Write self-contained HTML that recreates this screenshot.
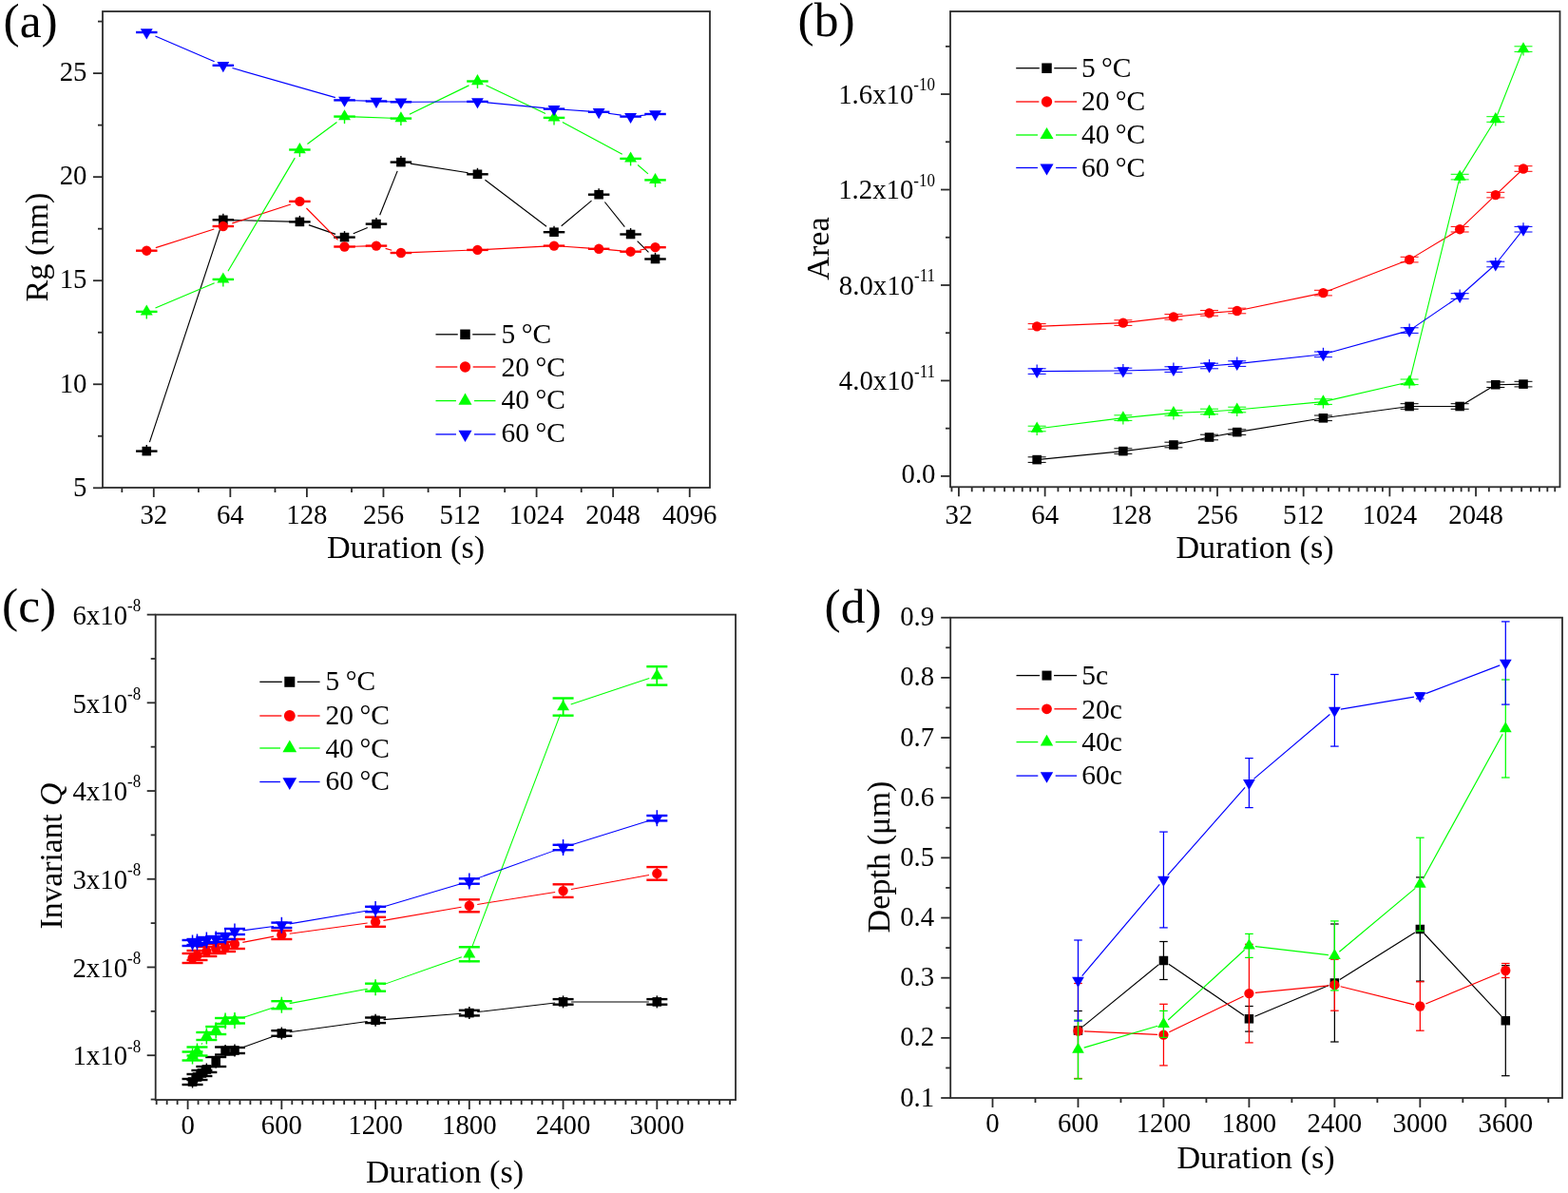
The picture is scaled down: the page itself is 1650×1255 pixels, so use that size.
<!DOCTYPE html>
<html><head><meta charset="utf-8"><title>Figure</title>
<style>
html,body{margin:0;padding:0;background:#fff;}
body{width:1650px;height:1255px;overflow:hidden;}
svg{display:block;}
text{font-family:"Liberation Serif", "Times New Roman", serif;fill:#000;}
</style></head>
<body>
<svg width="1650" height="1255" viewBox="0 0 1650 1255">
<rect width="1650" height="1255" fill="#fff"/>
<rect x="108" y="12" width="639" height="501" fill="none" stroke="#2b2b2b" stroke-width="1.8"/>
<line x1="98" y1="513.3" x2="108" y2="513.3" stroke="#2b2b2b" stroke-width="1.8"/>
<text transform="translate(91.5,521.55) scale(1,1.05)" font-size="28.8" text-anchor="end">5</text>
<line x1="98" y1="404.25" x2="108" y2="404.25" stroke="#2b2b2b" stroke-width="1.8"/>
<text transform="translate(91.5,412.5) scale(1,1.05)" font-size="28.8" text-anchor="end">10</text>
<line x1="98" y1="295.2" x2="108" y2="295.2" stroke="#2b2b2b" stroke-width="1.8"/>
<text transform="translate(91.5,303.45) scale(1,1.05)" font-size="28.8" text-anchor="end">15</text>
<line x1="98" y1="186.15" x2="108" y2="186.15" stroke="#2b2b2b" stroke-width="1.8"/>
<text transform="translate(91.5,194.4) scale(1,1.05)" font-size="28.8" text-anchor="end">20</text>
<line x1="98" y1="77.1" x2="108" y2="77.1" stroke="#2b2b2b" stroke-width="1.8"/>
<text transform="translate(91.5,85.35) scale(1,1.05)" font-size="28.8" text-anchor="end">25</text>
<line x1="103" y1="458.77" x2="108" y2="458.77" stroke="#2b2b2b" stroke-width="1.8"/>
<line x1="103" y1="349.72" x2="108" y2="349.72" stroke="#2b2b2b" stroke-width="1.8"/>
<line x1="103" y1="240.67" x2="108" y2="240.67" stroke="#2b2b2b" stroke-width="1.8"/>
<line x1="103" y1="131.62" x2="108" y2="131.62" stroke="#2b2b2b" stroke-width="1.8"/>
<line x1="103" y1="22.57" x2="108" y2="22.57" stroke="#2b2b2b" stroke-width="1.8"/>
<line x1="161.78" y1="513" x2="161.78" y2="523" stroke="#2b2b2b" stroke-width="1.8"/>
<text transform="translate(161.78,550.5) scale(1,1.05)" font-size="28.8" text-anchor="middle">32</text>
<line x1="242.34" y1="513" x2="242.34" y2="523" stroke="#2b2b2b" stroke-width="1.8"/>
<text transform="translate(242.34,550.5) scale(1,1.05)" font-size="28.8" text-anchor="middle">64</text>
<line x1="322.91" y1="513" x2="322.91" y2="523" stroke="#2b2b2b" stroke-width="1.8"/>
<text transform="translate(322.91,550.5) scale(1,1.05)" font-size="28.8" text-anchor="middle">128</text>
<line x1="403.47" y1="513" x2="403.47" y2="523" stroke="#2b2b2b" stroke-width="1.8"/>
<text transform="translate(403.47,550.5) scale(1,1.05)" font-size="28.8" text-anchor="middle">256</text>
<line x1="484.04" y1="513" x2="484.04" y2="523" stroke="#2b2b2b" stroke-width="1.8"/>
<text transform="translate(484.04,550.5) scale(1,1.05)" font-size="28.8" text-anchor="middle">512</text>
<line x1="564.6" y1="513" x2="564.6" y2="523" stroke="#2b2b2b" stroke-width="1.8"/>
<text transform="translate(564.6,550.5) scale(1,1.05)" font-size="28.8" text-anchor="middle">1024</text>
<line x1="645.16" y1="513" x2="645.16" y2="523" stroke="#2b2b2b" stroke-width="1.8"/>
<text transform="translate(645.16,550.5) scale(1,1.05)" font-size="28.8" text-anchor="middle">2048</text>
<line x1="725.73" y1="513" x2="725.73" y2="523" stroke="#2b2b2b" stroke-width="1.8"/>
<text transform="translate(725.73,550.5) scale(1,1.05)" font-size="28.8" text-anchor="middle">4096</text>
<line x1="128.34" y1="513" x2="128.34" y2="518" stroke="#2b2b2b" stroke-width="1.8"/>
<line x1="208.91" y1="513" x2="208.91" y2="518" stroke="#2b2b2b" stroke-width="1.8"/>
<line x1="289.47" y1="513" x2="289.47" y2="518" stroke="#2b2b2b" stroke-width="1.8"/>
<line x1="370.03" y1="513" x2="370.03" y2="518" stroke="#2b2b2b" stroke-width="1.8"/>
<line x1="450.6" y1="513" x2="450.6" y2="518" stroke="#2b2b2b" stroke-width="1.8"/>
<line x1="531.16" y1="513" x2="531.16" y2="518" stroke="#2b2b2b" stroke-width="1.8"/>
<line x1="611.73" y1="513" x2="611.73" y2="518" stroke="#2b2b2b" stroke-width="1.8"/>
<line x1="692.29" y1="513" x2="692.29" y2="518" stroke="#2b2b2b" stroke-width="1.8"/>
<text x="427" y="587" font-size="34.2" text-anchor="middle">Duration (s)</text>
<text transform="translate(49.5,260) rotate(-90)" font-size="34.2" text-anchor="middle">Rg (nm)</text>
<text x="3.5" y="38.6" font-size="51.5" text-anchor="start">(a)</text>
<path d="M157.42 465.11L231.7 240.79M244.84 231.56L305.41 233.14M324.86 236.65L353.08 246.35M371.76 245.74L386.75 239.46M399.68 226.31L418.2 179.89M431.78 172.16L492.59 181.74M510.45 189.33L575.06 238.17M590.7 237.78L622.5 211.12M636.41 212.51L657.35 238.69M670.66 253.58L682.47 265.42" fill="none" stroke="#000000" stroke-width="1.15"/>
<line x1="154.28" y1="468.1" x2="154.28" y2="474.6" stroke="#000000" stroke-width="1.4"/>
<line x1="143.03" y1="474.6" x2="165.53" y2="474.6" stroke="#000000" stroke-width="2.4"/>
<line x1="234.84" y1="224.8" x2="234.84" y2="231.3" stroke="#000000" stroke-width="1.4"/>
<line x1="223.59" y1="231.3" x2="246.09" y2="231.3" stroke="#000000" stroke-width="2.4"/>
<line x1="315.41" y1="226.9" x2="315.41" y2="233.4" stroke="#000000" stroke-width="1.4"/>
<line x1="304.16" y1="233.4" x2="326.66" y2="233.4" stroke="#000000" stroke-width="2.4"/>
<line x1="362.53" y1="243.1" x2="362.53" y2="249.6" stroke="#000000" stroke-width="1.4"/>
<line x1="351.28" y1="249.6" x2="373.78" y2="249.6" stroke="#000000" stroke-width="2.4"/>
<line x1="395.97" y1="229.1" x2="395.97" y2="235.6" stroke="#000000" stroke-width="1.4"/>
<line x1="384.72" y1="235.6" x2="407.22" y2="235.6" stroke="#000000" stroke-width="2.4"/>
<line x1="421.91" y1="164.1" x2="421.91" y2="170.6" stroke="#000000" stroke-width="1.4"/>
<line x1="410.66" y1="170.6" x2="433.16" y2="170.6" stroke="#000000" stroke-width="2.4"/>
<line x1="502.47" y1="176.8" x2="502.47" y2="183.3" stroke="#000000" stroke-width="1.4"/>
<line x1="491.22" y1="183.3" x2="513.72" y2="183.3" stroke="#000000" stroke-width="2.4"/>
<line x1="583.03" y1="237.7" x2="583.03" y2="244.2" stroke="#000000" stroke-width="1.4"/>
<line x1="571.78" y1="244.2" x2="594.28" y2="244.2" stroke="#000000" stroke-width="2.4"/>
<line x1="630.16" y1="198.2" x2="630.16" y2="204.7" stroke="#000000" stroke-width="1.4"/>
<line x1="618.91" y1="204.7" x2="641.41" y2="204.7" stroke="#000000" stroke-width="2.4"/>
<line x1="663.6" y1="240" x2="663.6" y2="246.5" stroke="#000000" stroke-width="1.4"/>
<line x1="652.35" y1="246.5" x2="674.85" y2="246.5" stroke="#000000" stroke-width="2.4"/>
<line x1="689.53" y1="266" x2="689.53" y2="272.5" stroke="#000000" stroke-width="1.4"/>
<line x1="678.28" y1="272.5" x2="700.78" y2="272.5" stroke="#000000" stroke-width="2.4"/>
<rect x="149.48" y="469.8" width="9.6" height="9.6" fill="#000000"/>
<rect x="230.04" y="226.5" width="9.6" height="9.6" fill="#000000"/>
<rect x="310.61" y="228.6" width="9.6" height="9.6" fill="#000000"/>
<rect x="357.73" y="244.8" width="9.6" height="9.6" fill="#000000"/>
<rect x="391.17" y="230.8" width="9.6" height="9.6" fill="#000000"/>
<rect x="417.11" y="165.8" width="9.6" height="9.6" fill="#000000"/>
<rect x="497.67" y="178.5" width="9.6" height="9.6" fill="#000000"/>
<rect x="578.23" y="239.4" width="9.6" height="9.6" fill="#000000"/>
<rect x="625.36" y="199.9" width="9.6" height="9.6" fill="#000000"/>
<rect x="658.8" y="241.7" width="9.6" height="9.6" fill="#000000"/>
<rect x="684.73" y="267.7" width="9.6" height="9.6" fill="#000000"/>
<path d="M163.81 260.66L225.32 241.04M244.36 234.92L305.89 214.98M322.44 219.01L355.5 252.39M372.53 259.23L385.97 258.87M405.59 261.34L412.29 263.26M431.9 265.62L492.48 263.28M512.46 262.37L573.05 259.13M593.01 259.28L620.18 261.12M640.12 262.66L653.64 263.84M673.45 262.99L679.68 261.91" fill="none" stroke="#ff0000" stroke-width="1.15"/>
<line x1="143.03" y1="263.7" x2="165.53" y2="263.7" stroke="#ff0000" stroke-width="2.4"/>
<line x1="223.59" y1="238" x2="246.09" y2="238" stroke="#ff0000" stroke-width="2.4"/>
<line x1="304.16" y1="211.9" x2="326.66" y2="211.9" stroke="#ff0000" stroke-width="2.4"/>
<line x1="351.28" y1="259.5" x2="373.78" y2="259.5" stroke="#ff0000" stroke-width="2.4"/>
<line x1="384.72" y1="258.6" x2="407.22" y2="258.6" stroke="#ff0000" stroke-width="2.4"/>
<line x1="410.66" y1="266" x2="433.16" y2="266" stroke="#ff0000" stroke-width="2.4"/>
<line x1="491.22" y1="262.9" x2="513.72" y2="262.9" stroke="#ff0000" stroke-width="2.4"/>
<line x1="571.78" y1="258.6" x2="594.28" y2="258.6" stroke="#ff0000" stroke-width="2.4"/>
<line x1="618.91" y1="261.8" x2="641.41" y2="261.8" stroke="#ff0000" stroke-width="2.4"/>
<line x1="652.35" y1="264.7" x2="674.85" y2="264.7" stroke="#ff0000" stroke-width="2.4"/>
<line x1="678.28" y1="260.2" x2="700.78" y2="260.2" stroke="#ff0000" stroke-width="2.4"/>
<circle cx="154.28" cy="263.7" r="5.18" fill="#ff0000"/>
<circle cx="234.84" cy="238" r="5.18" fill="#ff0000"/>
<circle cx="315.41" cy="211.9" r="5.18" fill="#ff0000"/>
<circle cx="362.53" cy="259.5" r="5.18" fill="#ff0000"/>
<circle cx="395.97" cy="258.6" r="5.18" fill="#ff0000"/>
<circle cx="421.91" cy="266" r="5.18" fill="#ff0000"/>
<circle cx="502.47" cy="262.9" r="5.18" fill="#ff0000"/>
<circle cx="583.03" cy="258.6" r="5.18" fill="#ff0000"/>
<circle cx="630.16" cy="261.8" r="5.18" fill="#ff0000"/>
<circle cx="663.6" cy="264.7" r="5.18" fill="#ff0000"/>
<circle cx="689.53" cy="260.2" r="5.18" fill="#ff0000"/>
<path d="M163.49 324.01L225.63 297.79M239.93 285.29L310.32 166.11M323.44 151.55L354.5 128.55M372.53 122.94L411.91 124.26M430.9 120.23L493.47 89.87M511.5 89.8L574.01 119.6M591.86 128.61L654.78 162.19M671.15 173.45L681.98 182.85" fill="none" stroke="#00ff00" stroke-width="1.15"/>
<line x1="154.28" y1="327.9" x2="154.28" y2="335.4" stroke="#00ff00" stroke-width="1.4"/>
<line x1="143.03" y1="327.9" x2="165.53" y2="327.9" stroke="#00ff00" stroke-width="2.4"/>
<line x1="234.84" y1="293.9" x2="234.84" y2="301.4" stroke="#00ff00" stroke-width="1.4"/>
<line x1="223.59" y1="293.9" x2="246.09" y2="293.9" stroke="#00ff00" stroke-width="2.4"/>
<line x1="315.41" y1="157.5" x2="315.41" y2="165" stroke="#00ff00" stroke-width="1.4"/>
<line x1="304.16" y1="157.5" x2="326.66" y2="157.5" stroke="#00ff00" stroke-width="2.4"/>
<line x1="362.53" y1="122.6" x2="362.53" y2="130.1" stroke="#00ff00" stroke-width="1.4"/>
<line x1="351.28" y1="122.6" x2="373.78" y2="122.6" stroke="#00ff00" stroke-width="2.4"/>
<line x1="421.91" y1="124.6" x2="421.91" y2="132.1" stroke="#00ff00" stroke-width="1.4"/>
<line x1="410.66" y1="124.6" x2="433.16" y2="124.6" stroke="#00ff00" stroke-width="2.4"/>
<line x1="502.47" y1="85.5" x2="502.47" y2="93" stroke="#00ff00" stroke-width="1.4"/>
<line x1="491.22" y1="85.5" x2="513.72" y2="85.5" stroke="#00ff00" stroke-width="2.4"/>
<line x1="583.03" y1="123.9" x2="583.03" y2="131.4" stroke="#00ff00" stroke-width="1.4"/>
<line x1="571.78" y1="123.9" x2="594.28" y2="123.9" stroke="#00ff00" stroke-width="2.4"/>
<line x1="663.6" y1="166.9" x2="663.6" y2="174.4" stroke="#00ff00" stroke-width="1.4"/>
<line x1="652.35" y1="166.9" x2="674.85" y2="166.9" stroke="#00ff00" stroke-width="2.4"/>
<line x1="689.53" y1="189.4" x2="689.53" y2="196.9" stroke="#00ff00" stroke-width="1.4"/>
<line x1="678.28" y1="189.4" x2="700.78" y2="189.4" stroke="#00ff00" stroke-width="2.4"/>
<polygon points="154.28,320.47 147.85,331.61 160.71,331.61" fill="#00ff00"/>
<polygon points="234.84,286.47 228.41,297.61 241.27,297.61" fill="#00ff00"/>
<polygon points="315.41,150.07 308.97,161.21 321.84,161.21" fill="#00ff00"/>
<polygon points="362.53,115.17 356.1,126.31 368.97,126.31" fill="#00ff00"/>
<polygon points="421.91,117.17 415.47,128.31 428.34,128.31" fill="#00ff00"/>
<polygon points="502.47,78.07 496.04,89.21 508.9,89.21" fill="#00ff00"/>
<polygon points="583.03,116.47 576.6,127.61 589.47,127.61" fill="#00ff00"/>
<polygon points="663.6,159.47 657.17,170.61 670.03,170.61" fill="#00ff00"/>
<polygon points="689.53,181.97 683.1,193.11 695.97,193.11" fill="#00ff00"/>
<path d="M163.46 37.97L225.66 64.83M244.46 71.56L352.92 102.64M372.53 105.73L385.98 106.17M405.97 106.81L411.91 106.99M431.91 107.25L492.47 106.95M512.43 107.85L573.08 113.65M593.01 115.28L620.18 117.12M640.06 119.22L653.7 121.18M673.55 121.6L679.58 121" fill="none" stroke="#0000ff" stroke-width="1.15"/>
<line x1="143.03" y1="34" x2="165.53" y2="34" stroke="#0000ff" stroke-width="2.4"/>
<line x1="223.59" y1="68.8" x2="246.09" y2="68.8" stroke="#0000ff" stroke-width="2.4"/>
<line x1="351.28" y1="105.4" x2="373.78" y2="105.4" stroke="#0000ff" stroke-width="2.4"/>
<line x1="384.72" y1="106.5" x2="407.22" y2="106.5" stroke="#0000ff" stroke-width="2.4"/>
<line x1="410.66" y1="107.3" x2="433.16" y2="107.3" stroke="#0000ff" stroke-width="2.4"/>
<line x1="491.22" y1="106.9" x2="513.72" y2="106.9" stroke="#0000ff" stroke-width="2.4"/>
<line x1="571.78" y1="114.6" x2="594.28" y2="114.6" stroke="#0000ff" stroke-width="2.4"/>
<line x1="618.91" y1="117.8" x2="641.41" y2="117.8" stroke="#0000ff" stroke-width="2.4"/>
<line x1="652.35" y1="122.6" x2="674.85" y2="122.6" stroke="#0000ff" stroke-width="2.4"/>
<line x1="678.28" y1="120" x2="700.78" y2="120" stroke="#0000ff" stroke-width="2.4"/>
<polygon points="154.28,41.43 147.85,30.29 160.71,30.29" fill="#0000ff"/>
<polygon points="234.84,76.23 228.41,65.09 241.27,65.09" fill="#0000ff"/>
<polygon points="362.53,112.83 356.1,101.69 368.97,101.69" fill="#0000ff"/>
<polygon points="395.97,113.93 389.54,102.79 402.4,102.79" fill="#0000ff"/>
<polygon points="421.91,114.73 415.47,103.59 428.34,103.59" fill="#0000ff"/>
<polygon points="502.47,114.33 496.04,103.19 508.9,103.19" fill="#0000ff"/>
<polygon points="583.03,122.03 576.6,110.89 589.47,110.89" fill="#0000ff"/>
<polygon points="630.16,125.23 623.73,114.09 636.59,114.09" fill="#0000ff"/>
<polygon points="663.6,130.03 657.17,118.89 670.03,118.89" fill="#0000ff"/>
<polygon points="689.53,127.43 683.1,116.29 695.97,116.29" fill="#0000ff"/>
<line x1="458.5" y1="351.8" x2="481.75" y2="351.8" stroke="#000000" stroke-width="1.3"/>
<line x1="497.25" y1="351.8" x2="521.5" y2="351.8" stroke="#000000" stroke-width="1.3"/>
<rect x="484.25" y="346.55" width="10.5" height="10.5" fill="#000000"/>
<text x="527.5" y="360.5" font-size="29.5" text-anchor="start">5<tspan dx="6.4">&#176;C</tspan></text>
<line x1="458.5" y1="386" x2="481.33" y2="386" stroke="#ff0000" stroke-width="1.3"/>
<line x1="497.67" y1="386" x2="521.5" y2="386" stroke="#ff0000" stroke-width="1.3"/>
<circle cx="489.5" cy="386" r="5.67" fill="#ff0000"/>
<text x="527.5" y="395.8" font-size="29.5" text-anchor="start">20<tspan dx="6.4">&#176;C</tspan></text>
<line x1="458.5" y1="421.6" x2="479.96" y2="421.6" stroke="#00ff00" stroke-width="1.3"/>
<line x1="499.04" y1="421.6" x2="521.5" y2="421.6" stroke="#00ff00" stroke-width="1.3"/>
<polygon points="489.5,413.48 482.46,425.66 496.54,425.66" fill="#00ff00"/>
<text x="527.5" y="430.2" font-size="29.5" text-anchor="start">40<tspan dx="6.4">&#176;C</tspan></text>
<line x1="458.5" y1="456.9" x2="479.96" y2="456.9" stroke="#0000ff" stroke-width="1.3"/>
<line x1="499.04" y1="456.9" x2="521.5" y2="456.9" stroke="#0000ff" stroke-width="1.3"/>
<polygon points="489.5,465.02 482.46,452.84 496.54,452.84" fill="#0000ff"/>
<text x="527.5" y="465.2" font-size="29.5" text-anchor="start">60<tspan dx="6.4">&#176;C</tspan></text>
<rect x="1000" y="12" width="641.5" height="500.3" fill="none" stroke="#2b2b2b" stroke-width="1.8"/>
<line x1="990" y1="500.9" x2="1000" y2="500.9" stroke="#2b2b2b" stroke-width="1.8"/>
<text transform="translate(984.5,508.25) scale(1,1.05)" font-size="28.8" text-anchor="end">0.0</text>
<line x1="990" y1="400.44" x2="1000" y2="400.44" stroke="#2b2b2b" stroke-width="1.8"/>
<text transform="translate(984,410.39) scale(1,1.05)" font-size="28.8" text-anchor="end">4.0x10<tspan font-size="17" dy="-13.2">-11</tspan></text>
<line x1="990" y1="299.98" x2="1000" y2="299.98" stroke="#2b2b2b" stroke-width="1.8"/>
<text transform="translate(984,309.93) scale(1,1.05)" font-size="28.8" text-anchor="end">8.0x10<tspan font-size="17" dy="-13.2">-11</tspan></text>
<line x1="990" y1="199.52" x2="1000" y2="199.52" stroke="#2b2b2b" stroke-width="1.8"/>
<text transform="translate(984,209.47) scale(1,1.05)" font-size="28.8" text-anchor="end">1.2x10<tspan font-size="17" dy="-13.2">-10</tspan></text>
<line x1="990" y1="99.06" x2="1000" y2="99.06" stroke="#2b2b2b" stroke-width="1.8"/>
<text transform="translate(984,109.01) scale(1,1.05)" font-size="28.8" text-anchor="end">1.6x10<tspan font-size="17" dy="-13.2">-10</tspan></text>
<line x1="995" y1="450.67" x2="1000" y2="450.67" stroke="#2b2b2b" stroke-width="1.8"/>
<line x1="995" y1="350.21" x2="1000" y2="350.21" stroke="#2b2b2b" stroke-width="1.8"/>
<line x1="995" y1="249.75" x2="1000" y2="249.75" stroke="#2b2b2b" stroke-width="1.8"/>
<line x1="995" y1="149.29" x2="1000" y2="149.29" stroke="#2b2b2b" stroke-width="1.8"/>
<line x1="995" y1="48.83" x2="1000" y2="48.83" stroke="#2b2b2b" stroke-width="1.8"/>
<line x1="1008.93" y1="512.3" x2="1008.93" y2="522.3" stroke="#2b2b2b" stroke-width="1.8"/>
<text transform="translate(1008.93,551) scale(1,1.05)" font-size="28.8" text-anchor="middle">32</text>
<line x1="1099.62" y1="512.3" x2="1099.62" y2="522.3" stroke="#2b2b2b" stroke-width="1.8"/>
<text transform="translate(1099.62,551) scale(1,1.05)" font-size="28.8" text-anchor="middle">64</text>
<line x1="1190.3" y1="512.3" x2="1190.3" y2="522.3" stroke="#2b2b2b" stroke-width="1.8"/>
<text transform="translate(1190.3,551) scale(1,1.05)" font-size="28.8" text-anchor="middle">128</text>
<line x1="1280.99" y1="512.3" x2="1280.99" y2="522.3" stroke="#2b2b2b" stroke-width="1.8"/>
<text transform="translate(1280.99,551) scale(1,1.05)" font-size="28.8" text-anchor="middle">256</text>
<line x1="1371.67" y1="512.3" x2="1371.67" y2="522.3" stroke="#2b2b2b" stroke-width="1.8"/>
<text transform="translate(1371.67,551) scale(1,1.05)" font-size="28.8" text-anchor="middle">512</text>
<line x1="1462.36" y1="512.3" x2="1462.36" y2="522.3" stroke="#2b2b2b" stroke-width="1.8"/>
<text transform="translate(1462.36,551) scale(1,1.05)" font-size="28.8" text-anchor="middle">1024</text>
<line x1="1553.05" y1="512.3" x2="1553.05" y2="522.3" stroke="#2b2b2b" stroke-width="1.8"/>
<text transform="translate(1553.05,551) scale(1,1.05)" font-size="28.8" text-anchor="middle">2048</text>
<line x1="1001.45" y1="512.3" x2="1001.45" y2="517.3" stroke="#2b2b2b" stroke-width="1.8"/>
<line x1="1022.71" y1="512.3" x2="1022.71" y2="517.3" stroke="#2b2b2b" stroke-width="1.8"/>
<line x1="1035.18" y1="512.3" x2="1035.18" y2="517.3" stroke="#2b2b2b" stroke-width="1.8"/>
<line x1="1046.57" y1="512.3" x2="1046.57" y2="517.3" stroke="#2b2b2b" stroke-width="1.8"/>
<line x1="1057.04" y1="512.3" x2="1057.04" y2="517.3" stroke="#2b2b2b" stroke-width="1.8"/>
<line x1="1066.74" y1="512.3" x2="1066.74" y2="517.3" stroke="#2b2b2b" stroke-width="1.8"/>
<line x1="1075.76" y1="512.3" x2="1075.76" y2="517.3" stroke="#2b2b2b" stroke-width="1.8"/>
<line x1="1084.21" y1="512.3" x2="1084.21" y2="517.3" stroke="#2b2b2b" stroke-width="1.8"/>
<line x1="1092.14" y1="512.3" x2="1092.14" y2="517.3" stroke="#2b2b2b" stroke-width="1.8"/>
<line x1="1113.4" y1="512.3" x2="1113.4" y2="517.3" stroke="#2b2b2b" stroke-width="1.8"/>
<line x1="1125.87" y1="512.3" x2="1125.87" y2="517.3" stroke="#2b2b2b" stroke-width="1.8"/>
<line x1="1137.25" y1="512.3" x2="1137.25" y2="517.3" stroke="#2b2b2b" stroke-width="1.8"/>
<line x1="1147.73" y1="512.3" x2="1147.73" y2="517.3" stroke="#2b2b2b" stroke-width="1.8"/>
<line x1="1157.42" y1="512.3" x2="1157.42" y2="517.3" stroke="#2b2b2b" stroke-width="1.8"/>
<line x1="1166.45" y1="512.3" x2="1166.45" y2="517.3" stroke="#2b2b2b" stroke-width="1.8"/>
<line x1="1174.89" y1="512.3" x2="1174.89" y2="517.3" stroke="#2b2b2b" stroke-width="1.8"/>
<line x1="1182.82" y1="512.3" x2="1182.82" y2="517.3" stroke="#2b2b2b" stroke-width="1.8"/>
<line x1="1204.09" y1="512.3" x2="1204.09" y2="517.3" stroke="#2b2b2b" stroke-width="1.8"/>
<line x1="1216.56" y1="512.3" x2="1216.56" y2="517.3" stroke="#2b2b2b" stroke-width="1.8"/>
<line x1="1227.94" y1="512.3" x2="1227.94" y2="517.3" stroke="#2b2b2b" stroke-width="1.8"/>
<line x1="1238.41" y1="512.3" x2="1238.41" y2="517.3" stroke="#2b2b2b" stroke-width="1.8"/>
<line x1="1248.11" y1="512.3" x2="1248.11" y2="517.3" stroke="#2b2b2b" stroke-width="1.8"/>
<line x1="1257.13" y1="512.3" x2="1257.13" y2="517.3" stroke="#2b2b2b" stroke-width="1.8"/>
<line x1="1265.58" y1="512.3" x2="1265.58" y2="517.3" stroke="#2b2b2b" stroke-width="1.8"/>
<line x1="1273.51" y1="512.3" x2="1273.51" y2="517.3" stroke="#2b2b2b" stroke-width="1.8"/>
<line x1="1294.77" y1="512.3" x2="1294.77" y2="517.3" stroke="#2b2b2b" stroke-width="1.8"/>
<line x1="1307.24" y1="512.3" x2="1307.24" y2="517.3" stroke="#2b2b2b" stroke-width="1.8"/>
<line x1="1318.63" y1="512.3" x2="1318.63" y2="517.3" stroke="#2b2b2b" stroke-width="1.8"/>
<line x1="1329.1" y1="512.3" x2="1329.1" y2="517.3" stroke="#2b2b2b" stroke-width="1.8"/>
<line x1="1338.79" y1="512.3" x2="1338.79" y2="517.3" stroke="#2b2b2b" stroke-width="1.8"/>
<line x1="1347.82" y1="512.3" x2="1347.82" y2="517.3" stroke="#2b2b2b" stroke-width="1.8"/>
<line x1="1356.26" y1="512.3" x2="1356.26" y2="517.3" stroke="#2b2b2b" stroke-width="1.8"/>
<line x1="1364.2" y1="512.3" x2="1364.2" y2="517.3" stroke="#2b2b2b" stroke-width="1.8"/>
<line x1="1385.46" y1="512.3" x2="1385.46" y2="517.3" stroke="#2b2b2b" stroke-width="1.8"/>
<line x1="1397.93" y1="512.3" x2="1397.93" y2="517.3" stroke="#2b2b2b" stroke-width="1.8"/>
<line x1="1409.31" y1="512.3" x2="1409.31" y2="517.3" stroke="#2b2b2b" stroke-width="1.8"/>
<line x1="1419.78" y1="512.3" x2="1419.78" y2="517.3" stroke="#2b2b2b" stroke-width="1.8"/>
<line x1="1429.48" y1="512.3" x2="1429.48" y2="517.3" stroke="#2b2b2b" stroke-width="1.8"/>
<line x1="1438.51" y1="512.3" x2="1438.51" y2="517.3" stroke="#2b2b2b" stroke-width="1.8"/>
<line x1="1446.95" y1="512.3" x2="1446.95" y2="517.3" stroke="#2b2b2b" stroke-width="1.8"/>
<line x1="1454.88" y1="512.3" x2="1454.88" y2="517.3" stroke="#2b2b2b" stroke-width="1.8"/>
<line x1="1476.14" y1="512.3" x2="1476.14" y2="517.3" stroke="#2b2b2b" stroke-width="1.8"/>
<line x1="1488.61" y1="512.3" x2="1488.61" y2="517.3" stroke="#2b2b2b" stroke-width="1.8"/>
<line x1="1500" y1="512.3" x2="1500" y2="517.3" stroke="#2b2b2b" stroke-width="1.8"/>
<line x1="1510.47" y1="512.3" x2="1510.47" y2="517.3" stroke="#2b2b2b" stroke-width="1.8"/>
<line x1="1520.17" y1="512.3" x2="1520.17" y2="517.3" stroke="#2b2b2b" stroke-width="1.8"/>
<line x1="1529.19" y1="512.3" x2="1529.19" y2="517.3" stroke="#2b2b2b" stroke-width="1.8"/>
<line x1="1537.64" y1="512.3" x2="1537.64" y2="517.3" stroke="#2b2b2b" stroke-width="1.8"/>
<line x1="1545.57" y1="512.3" x2="1545.57" y2="517.3" stroke="#2b2b2b" stroke-width="1.8"/>
<line x1="1566.83" y1="512.3" x2="1566.83" y2="517.3" stroke="#2b2b2b" stroke-width="1.8"/>
<line x1="1579.3" y1="512.3" x2="1579.3" y2="517.3" stroke="#2b2b2b" stroke-width="1.8"/>
<line x1="1590.68" y1="512.3" x2="1590.68" y2="517.3" stroke="#2b2b2b" stroke-width="1.8"/>
<line x1="1601.16" y1="512.3" x2="1601.16" y2="517.3" stroke="#2b2b2b" stroke-width="1.8"/>
<line x1="1610.85" y1="512.3" x2="1610.85" y2="517.3" stroke="#2b2b2b" stroke-width="1.8"/>
<line x1="1619.88" y1="512.3" x2="1619.88" y2="517.3" stroke="#2b2b2b" stroke-width="1.8"/>
<line x1="1628.32" y1="512.3" x2="1628.32" y2="517.3" stroke="#2b2b2b" stroke-width="1.8"/>
<line x1="1636.25" y1="512.3" x2="1636.25" y2="517.3" stroke="#2b2b2b" stroke-width="1.8"/>
<text x="1320.5" y="586.5" font-size="34.2" text-anchor="middle">Duration (s)</text>
<text transform="translate(872,261.5) rotate(-90)" font-size="34.2" text-anchor="middle">Area</text>
<text x="839.5" y="38" font-size="51.5" text-anchor="start">(b)</text>
<polyline points="1091.17,483.6 1181.86,474.6 1234.91,468 1272.54,460 1301.74,454.6 1392.42,439.8 1483.11,427.5 1536.16,427.5 1573.8,404.7 1602.99,404.1" fill="none" stroke="#000000" stroke-width="1.1" stroke-linejoin="round"/>
<line x1="1091.17" y1="480.8" x2="1091.17" y2="486.4" stroke="#000000" stroke-width="1.2"/>
<line x1="1081.67" y1="480.8" x2="1100.67" y2="480.8" stroke="#000000" stroke-width="1"/>
<line x1="1081.67" y1="486.4" x2="1100.67" y2="486.4" stroke="#000000" stroke-width="1"/>
<line x1="1181.86" y1="471.8" x2="1181.86" y2="477.4" stroke="#000000" stroke-width="1.2"/>
<line x1="1172.36" y1="471.8" x2="1191.36" y2="471.8" stroke="#000000" stroke-width="1"/>
<line x1="1172.36" y1="477.4" x2="1191.36" y2="477.4" stroke="#000000" stroke-width="1"/>
<line x1="1234.91" y1="465.2" x2="1234.91" y2="470.8" stroke="#000000" stroke-width="1.2"/>
<line x1="1225.41" y1="465.2" x2="1244.41" y2="465.2" stroke="#000000" stroke-width="1"/>
<line x1="1225.41" y1="470.8" x2="1244.41" y2="470.8" stroke="#000000" stroke-width="1"/>
<line x1="1272.54" y1="457.2" x2="1272.54" y2="462.8" stroke="#000000" stroke-width="1.2"/>
<line x1="1263.04" y1="457.2" x2="1282.04" y2="457.2" stroke="#000000" stroke-width="1"/>
<line x1="1263.04" y1="462.8" x2="1282.04" y2="462.8" stroke="#000000" stroke-width="1"/>
<line x1="1301.74" y1="451.8" x2="1301.74" y2="457.4" stroke="#000000" stroke-width="1.2"/>
<line x1="1292.24" y1="451.8" x2="1311.24" y2="451.8" stroke="#000000" stroke-width="1"/>
<line x1="1292.24" y1="457.4" x2="1311.24" y2="457.4" stroke="#000000" stroke-width="1"/>
<line x1="1392.42" y1="437" x2="1392.42" y2="442.6" stroke="#000000" stroke-width="1.2"/>
<line x1="1382.92" y1="437" x2="1401.92" y2="437" stroke="#000000" stroke-width="1"/>
<line x1="1382.92" y1="442.6" x2="1401.92" y2="442.6" stroke="#000000" stroke-width="1"/>
<line x1="1483.11" y1="424.7" x2="1483.11" y2="430.3" stroke="#000000" stroke-width="1.2"/>
<line x1="1473.61" y1="424.7" x2="1492.61" y2="424.7" stroke="#000000" stroke-width="1"/>
<line x1="1473.61" y1="430.3" x2="1492.61" y2="430.3" stroke="#000000" stroke-width="1"/>
<line x1="1536.16" y1="424.7" x2="1536.16" y2="430.3" stroke="#000000" stroke-width="1.2"/>
<line x1="1526.66" y1="424.7" x2="1545.66" y2="424.7" stroke="#000000" stroke-width="1"/>
<line x1="1526.66" y1="430.3" x2="1545.66" y2="430.3" stroke="#000000" stroke-width="1"/>
<line x1="1573.8" y1="401.9" x2="1573.8" y2="407.5" stroke="#000000" stroke-width="1.2"/>
<line x1="1564.3" y1="401.9" x2="1583.3" y2="401.9" stroke="#000000" stroke-width="1"/>
<line x1="1564.3" y1="407.5" x2="1583.3" y2="407.5" stroke="#000000" stroke-width="1"/>
<line x1="1602.99" y1="401.3" x2="1602.99" y2="406.9" stroke="#000000" stroke-width="1.2"/>
<line x1="1593.49" y1="401.3" x2="1612.49" y2="401.3" stroke="#000000" stroke-width="1"/>
<line x1="1593.49" y1="406.9" x2="1612.49" y2="406.9" stroke="#000000" stroke-width="1"/>
<rect x="1086.37" y="478.8" width="9.6" height="9.6" fill="#000000"/>
<rect x="1177.06" y="469.8" width="9.6" height="9.6" fill="#000000"/>
<rect x="1230.11" y="463.2" width="9.6" height="9.6" fill="#000000"/>
<rect x="1267.74" y="455.2" width="9.6" height="9.6" fill="#000000"/>
<rect x="1296.94" y="449.8" width="9.6" height="9.6" fill="#000000"/>
<rect x="1387.62" y="435" width="9.6" height="9.6" fill="#000000"/>
<rect x="1478.31" y="422.7" width="9.6" height="9.6" fill="#000000"/>
<rect x="1531.36" y="422.7" width="9.6" height="9.6" fill="#000000"/>
<rect x="1569" y="399.9" width="9.6" height="9.6" fill="#000000"/>
<rect x="1598.19" y="399.3" width="9.6" height="9.6" fill="#000000"/>
<polyline points="1091.17,343.4 1181.86,339.6 1234.91,333.4 1272.54,329.4 1301.74,327 1392.42,308.1 1483.11,273.1 1536.16,241.2 1573.8,205.1 1602.99,177.5" fill="none" stroke="#ff0000" stroke-width="1.1" stroke-linejoin="round"/>
<line x1="1091.17" y1="340.6" x2="1091.17" y2="346.2" stroke="#ff0000" stroke-width="1.2"/>
<line x1="1081.67" y1="340.6" x2="1100.67" y2="340.6" stroke="#ff0000" stroke-width="1"/>
<line x1="1081.67" y1="346.2" x2="1100.67" y2="346.2" stroke="#ff0000" stroke-width="1"/>
<line x1="1181.86" y1="336.8" x2="1181.86" y2="342.4" stroke="#ff0000" stroke-width="1.2"/>
<line x1="1172.36" y1="336.8" x2="1191.36" y2="336.8" stroke="#ff0000" stroke-width="1"/>
<line x1="1172.36" y1="342.4" x2="1191.36" y2="342.4" stroke="#ff0000" stroke-width="1"/>
<line x1="1234.91" y1="330.6" x2="1234.91" y2="336.2" stroke="#ff0000" stroke-width="1.2"/>
<line x1="1225.41" y1="330.6" x2="1244.41" y2="330.6" stroke="#ff0000" stroke-width="1"/>
<line x1="1225.41" y1="336.2" x2="1244.41" y2="336.2" stroke="#ff0000" stroke-width="1"/>
<line x1="1272.54" y1="326.6" x2="1272.54" y2="332.2" stroke="#ff0000" stroke-width="1.2"/>
<line x1="1263.04" y1="326.6" x2="1282.04" y2="326.6" stroke="#ff0000" stroke-width="1"/>
<line x1="1263.04" y1="332.2" x2="1282.04" y2="332.2" stroke="#ff0000" stroke-width="1"/>
<line x1="1301.74" y1="324.2" x2="1301.74" y2="329.8" stroke="#ff0000" stroke-width="1.2"/>
<line x1="1292.24" y1="324.2" x2="1311.24" y2="324.2" stroke="#ff0000" stroke-width="1"/>
<line x1="1292.24" y1="329.8" x2="1311.24" y2="329.8" stroke="#ff0000" stroke-width="1"/>
<line x1="1392.42" y1="305.3" x2="1392.42" y2="310.9" stroke="#ff0000" stroke-width="1.2"/>
<line x1="1382.92" y1="305.3" x2="1401.92" y2="305.3" stroke="#ff0000" stroke-width="1"/>
<line x1="1382.92" y1="310.9" x2="1401.92" y2="310.9" stroke="#ff0000" stroke-width="1"/>
<line x1="1483.11" y1="270.3" x2="1483.11" y2="275.9" stroke="#ff0000" stroke-width="1.2"/>
<line x1="1473.61" y1="270.3" x2="1492.61" y2="270.3" stroke="#ff0000" stroke-width="1"/>
<line x1="1473.61" y1="275.9" x2="1492.61" y2="275.9" stroke="#ff0000" stroke-width="1"/>
<line x1="1536.16" y1="238.4" x2="1536.16" y2="244" stroke="#ff0000" stroke-width="1.2"/>
<line x1="1526.66" y1="238.4" x2="1545.66" y2="238.4" stroke="#ff0000" stroke-width="1"/>
<line x1="1526.66" y1="244" x2="1545.66" y2="244" stroke="#ff0000" stroke-width="1"/>
<line x1="1573.8" y1="202.3" x2="1573.8" y2="207.9" stroke="#ff0000" stroke-width="1.2"/>
<line x1="1564.3" y1="202.3" x2="1583.3" y2="202.3" stroke="#ff0000" stroke-width="1"/>
<line x1="1564.3" y1="207.9" x2="1583.3" y2="207.9" stroke="#ff0000" stroke-width="1"/>
<line x1="1602.99" y1="174.7" x2="1602.99" y2="180.3" stroke="#ff0000" stroke-width="1.2"/>
<line x1="1593.49" y1="174.7" x2="1612.49" y2="174.7" stroke="#ff0000" stroke-width="1"/>
<line x1="1593.49" y1="180.3" x2="1612.49" y2="180.3" stroke="#ff0000" stroke-width="1"/>
<circle cx="1091.17" cy="343.4" r="5.18" fill="#ff0000"/>
<circle cx="1181.86" cy="339.6" r="5.18" fill="#ff0000"/>
<circle cx="1234.91" cy="333.4" r="5.18" fill="#ff0000"/>
<circle cx="1272.54" cy="329.4" r="5.18" fill="#ff0000"/>
<circle cx="1301.74" cy="327" r="5.18" fill="#ff0000"/>
<circle cx="1392.42" cy="308.1" r="5.18" fill="#ff0000"/>
<circle cx="1483.11" cy="273.1" r="5.18" fill="#ff0000"/>
<circle cx="1536.16" cy="241.2" r="5.18" fill="#ff0000"/>
<circle cx="1573.8" cy="205.1" r="5.18" fill="#ff0000"/>
<circle cx="1602.99" cy="177.5" r="5.18" fill="#ff0000"/>
<polyline points="1091.17,451 1181.86,439.6 1234.91,434.4 1272.54,433 1301.74,431 1392.42,422.6 1483.11,401.8 1536.16,186.1 1573.8,125.5 1602.99,51.6" fill="none" stroke="#00ff00" stroke-width="1.1" stroke-linejoin="round"/>
<line x1="1091.17" y1="451" x2="1091.17" y2="458" stroke="#00ff00" stroke-width="1.2"/>
<line x1="1091.17" y1="448.2" x2="1091.17" y2="453.8" stroke="#00ff00" stroke-width="1.2"/>
<line x1="1081.67" y1="448.2" x2="1100.67" y2="448.2" stroke="#00ff00" stroke-width="1"/>
<line x1="1081.67" y1="453.8" x2="1100.67" y2="453.8" stroke="#00ff00" stroke-width="1"/>
<line x1="1181.86" y1="439.6" x2="1181.86" y2="446.6" stroke="#00ff00" stroke-width="1.2"/>
<line x1="1181.86" y1="436.8" x2="1181.86" y2="442.4" stroke="#00ff00" stroke-width="1.2"/>
<line x1="1172.36" y1="436.8" x2="1191.36" y2="436.8" stroke="#00ff00" stroke-width="1"/>
<line x1="1172.36" y1="442.4" x2="1191.36" y2="442.4" stroke="#00ff00" stroke-width="1"/>
<line x1="1234.91" y1="434.4" x2="1234.91" y2="441.4" stroke="#00ff00" stroke-width="1.2"/>
<line x1="1234.91" y1="431.6" x2="1234.91" y2="437.2" stroke="#00ff00" stroke-width="1.2"/>
<line x1="1225.41" y1="431.6" x2="1244.41" y2="431.6" stroke="#00ff00" stroke-width="1"/>
<line x1="1225.41" y1="437.2" x2="1244.41" y2="437.2" stroke="#00ff00" stroke-width="1"/>
<line x1="1272.54" y1="433" x2="1272.54" y2="440" stroke="#00ff00" stroke-width="1.2"/>
<line x1="1272.54" y1="430.2" x2="1272.54" y2="435.8" stroke="#00ff00" stroke-width="1.2"/>
<line x1="1263.04" y1="430.2" x2="1282.04" y2="430.2" stroke="#00ff00" stroke-width="1"/>
<line x1="1263.04" y1="435.8" x2="1282.04" y2="435.8" stroke="#00ff00" stroke-width="1"/>
<line x1="1301.74" y1="431" x2="1301.74" y2="438" stroke="#00ff00" stroke-width="1.2"/>
<line x1="1301.74" y1="428.2" x2="1301.74" y2="433.8" stroke="#00ff00" stroke-width="1.2"/>
<line x1="1292.24" y1="428.2" x2="1311.24" y2="428.2" stroke="#00ff00" stroke-width="1"/>
<line x1="1292.24" y1="433.8" x2="1311.24" y2="433.8" stroke="#00ff00" stroke-width="1"/>
<line x1="1392.42" y1="422.6" x2="1392.42" y2="429.6" stroke="#00ff00" stroke-width="1.2"/>
<line x1="1392.42" y1="419.8" x2="1392.42" y2="425.4" stroke="#00ff00" stroke-width="1.2"/>
<line x1="1382.92" y1="419.8" x2="1401.92" y2="419.8" stroke="#00ff00" stroke-width="1"/>
<line x1="1382.92" y1="425.4" x2="1401.92" y2="425.4" stroke="#00ff00" stroke-width="1"/>
<line x1="1483.11" y1="401.8" x2="1483.11" y2="408.8" stroke="#00ff00" stroke-width="1.2"/>
<line x1="1483.11" y1="399" x2="1483.11" y2="404.6" stroke="#00ff00" stroke-width="1.2"/>
<line x1="1473.61" y1="399" x2="1492.61" y2="399" stroke="#00ff00" stroke-width="1"/>
<line x1="1473.61" y1="404.6" x2="1492.61" y2="404.6" stroke="#00ff00" stroke-width="1"/>
<line x1="1536.16" y1="186.1" x2="1536.16" y2="193.1" stroke="#00ff00" stroke-width="1.2"/>
<line x1="1536.16" y1="183.3" x2="1536.16" y2="188.9" stroke="#00ff00" stroke-width="1.2"/>
<line x1="1526.66" y1="183.3" x2="1545.66" y2="183.3" stroke="#00ff00" stroke-width="1"/>
<line x1="1526.66" y1="188.9" x2="1545.66" y2="188.9" stroke="#00ff00" stroke-width="1"/>
<line x1="1573.8" y1="125.5" x2="1573.8" y2="132.5" stroke="#00ff00" stroke-width="1.2"/>
<line x1="1573.8" y1="122.7" x2="1573.8" y2="128.3" stroke="#00ff00" stroke-width="1.2"/>
<line x1="1564.3" y1="122.7" x2="1583.3" y2="122.7" stroke="#00ff00" stroke-width="1"/>
<line x1="1564.3" y1="128.3" x2="1583.3" y2="128.3" stroke="#00ff00" stroke-width="1"/>
<line x1="1602.99" y1="51.6" x2="1602.99" y2="58.6" stroke="#00ff00" stroke-width="1.2"/>
<line x1="1602.99" y1="48.8" x2="1602.99" y2="54.4" stroke="#00ff00" stroke-width="1.2"/>
<line x1="1593.49" y1="48.8" x2="1612.49" y2="48.8" stroke="#00ff00" stroke-width="1"/>
<line x1="1593.49" y1="54.4" x2="1612.49" y2="54.4" stroke="#00ff00" stroke-width="1"/>
<polygon points="1091.17,443.57 1084.74,454.71 1097.6,454.71" fill="#00ff00"/>
<polygon points="1181.86,432.17 1175.43,443.31 1188.29,443.31" fill="#00ff00"/>
<polygon points="1234.91,426.97 1228.47,438.11 1241.34,438.11" fill="#00ff00"/>
<polygon points="1272.54,425.57 1266.11,436.71 1278.98,436.71" fill="#00ff00"/>
<polygon points="1301.74,423.57 1295.31,434.71 1308.17,434.71" fill="#00ff00"/>
<polygon points="1392.42,415.17 1385.99,426.31 1398.86,426.31" fill="#00ff00"/>
<polygon points="1483.11,394.37 1476.68,405.51 1489.54,405.51" fill="#00ff00"/>
<polygon points="1536.16,178.67 1529.73,189.81 1542.59,189.81" fill="#00ff00"/>
<polygon points="1573.8,118.07 1567.36,129.21 1580.23,129.21" fill="#00ff00"/>
<polygon points="1602.99,44.17 1596.56,55.31 1609.42,55.31" fill="#00ff00"/>
<polyline points="1091.17,390.6 1181.86,390 1234.91,388.6 1272.54,385 1301.74,382.6 1392.42,372.8 1483.11,347.6 1536.16,311.5 1573.8,278 1602.99,241.2" fill="none" stroke="#0000ff" stroke-width="1.1" stroke-linejoin="round"/>
<line x1="1091.17" y1="383.6" x2="1091.17" y2="390.6" stroke="#0000ff" stroke-width="1.2"/>
<line x1="1091.17" y1="387.8" x2="1091.17" y2="393.4" stroke="#0000ff" stroke-width="1.2"/>
<line x1="1081.67" y1="387.8" x2="1100.67" y2="387.8" stroke="#0000ff" stroke-width="1"/>
<line x1="1081.67" y1="393.4" x2="1100.67" y2="393.4" stroke="#0000ff" stroke-width="1"/>
<line x1="1181.86" y1="383" x2="1181.86" y2="390" stroke="#0000ff" stroke-width="1.2"/>
<line x1="1181.86" y1="387.2" x2="1181.86" y2="392.8" stroke="#0000ff" stroke-width="1.2"/>
<line x1="1172.36" y1="387.2" x2="1191.36" y2="387.2" stroke="#0000ff" stroke-width="1"/>
<line x1="1172.36" y1="392.8" x2="1191.36" y2="392.8" stroke="#0000ff" stroke-width="1"/>
<line x1="1234.91" y1="381.6" x2="1234.91" y2="388.6" stroke="#0000ff" stroke-width="1.2"/>
<line x1="1234.91" y1="385.8" x2="1234.91" y2="391.4" stroke="#0000ff" stroke-width="1.2"/>
<line x1="1225.41" y1="385.8" x2="1244.41" y2="385.8" stroke="#0000ff" stroke-width="1"/>
<line x1="1225.41" y1="391.4" x2="1244.41" y2="391.4" stroke="#0000ff" stroke-width="1"/>
<line x1="1272.54" y1="378" x2="1272.54" y2="385" stroke="#0000ff" stroke-width="1.2"/>
<line x1="1272.54" y1="382.2" x2="1272.54" y2="387.8" stroke="#0000ff" stroke-width="1.2"/>
<line x1="1263.04" y1="382.2" x2="1282.04" y2="382.2" stroke="#0000ff" stroke-width="1"/>
<line x1="1263.04" y1="387.8" x2="1282.04" y2="387.8" stroke="#0000ff" stroke-width="1"/>
<line x1="1301.74" y1="375.6" x2="1301.74" y2="382.6" stroke="#0000ff" stroke-width="1.2"/>
<line x1="1301.74" y1="379.8" x2="1301.74" y2="385.4" stroke="#0000ff" stroke-width="1.2"/>
<line x1="1292.24" y1="379.8" x2="1311.24" y2="379.8" stroke="#0000ff" stroke-width="1"/>
<line x1="1292.24" y1="385.4" x2="1311.24" y2="385.4" stroke="#0000ff" stroke-width="1"/>
<line x1="1392.42" y1="365.8" x2="1392.42" y2="372.8" stroke="#0000ff" stroke-width="1.2"/>
<line x1="1392.42" y1="370" x2="1392.42" y2="375.6" stroke="#0000ff" stroke-width="1.2"/>
<line x1="1382.92" y1="370" x2="1401.92" y2="370" stroke="#0000ff" stroke-width="1"/>
<line x1="1382.92" y1="375.6" x2="1401.92" y2="375.6" stroke="#0000ff" stroke-width="1"/>
<line x1="1483.11" y1="340.6" x2="1483.11" y2="347.6" stroke="#0000ff" stroke-width="1.2"/>
<line x1="1483.11" y1="344.8" x2="1483.11" y2="350.4" stroke="#0000ff" stroke-width="1.2"/>
<line x1="1473.61" y1="344.8" x2="1492.61" y2="344.8" stroke="#0000ff" stroke-width="1"/>
<line x1="1473.61" y1="350.4" x2="1492.61" y2="350.4" stroke="#0000ff" stroke-width="1"/>
<line x1="1536.16" y1="304.5" x2="1536.16" y2="311.5" stroke="#0000ff" stroke-width="1.2"/>
<line x1="1536.16" y1="308.7" x2="1536.16" y2="314.3" stroke="#0000ff" stroke-width="1.2"/>
<line x1="1526.66" y1="308.7" x2="1545.66" y2="308.7" stroke="#0000ff" stroke-width="1"/>
<line x1="1526.66" y1="314.3" x2="1545.66" y2="314.3" stroke="#0000ff" stroke-width="1"/>
<line x1="1573.8" y1="271" x2="1573.8" y2="278" stroke="#0000ff" stroke-width="1.2"/>
<line x1="1573.8" y1="275.2" x2="1573.8" y2="280.8" stroke="#0000ff" stroke-width="1.2"/>
<line x1="1564.3" y1="275.2" x2="1583.3" y2="275.2" stroke="#0000ff" stroke-width="1"/>
<line x1="1564.3" y1="280.8" x2="1583.3" y2="280.8" stroke="#0000ff" stroke-width="1"/>
<line x1="1602.99" y1="234.2" x2="1602.99" y2="241.2" stroke="#0000ff" stroke-width="1.2"/>
<line x1="1602.99" y1="238.4" x2="1602.99" y2="244" stroke="#0000ff" stroke-width="1.2"/>
<line x1="1593.49" y1="238.4" x2="1612.49" y2="238.4" stroke="#0000ff" stroke-width="1"/>
<line x1="1593.49" y1="244" x2="1612.49" y2="244" stroke="#0000ff" stroke-width="1"/>
<polygon points="1091.17,398.03 1084.74,386.89 1097.6,386.89" fill="#0000ff"/>
<polygon points="1181.86,397.43 1175.43,386.29 1188.29,386.29" fill="#0000ff"/>
<polygon points="1234.91,396.03 1228.47,384.89 1241.34,384.89" fill="#0000ff"/>
<polygon points="1272.54,392.43 1266.11,381.29 1278.98,381.29" fill="#0000ff"/>
<polygon points="1301.74,390.03 1295.31,378.89 1308.17,378.89" fill="#0000ff"/>
<polygon points="1392.42,380.23 1385.99,369.09 1398.86,369.09" fill="#0000ff"/>
<polygon points="1483.11,355.03 1476.68,343.89 1489.54,343.89" fill="#0000ff"/>
<polygon points="1536.16,318.93 1529.73,307.79 1542.59,307.79" fill="#0000ff"/>
<polygon points="1573.8,285.43 1567.36,274.29 1580.23,274.29" fill="#0000ff"/>
<polygon points="1602.99,248.63 1596.56,237.49 1609.42,237.49" fill="#0000ff"/>
<line x1="1069.2" y1="71.7" x2="1093.75" y2="71.7" stroke="#000000" stroke-width="1.3"/>
<line x1="1109.25" y1="71.7" x2="1133.1" y2="71.7" stroke="#000000" stroke-width="1.3"/>
<rect x="1096.25" y="66.45" width="10.5" height="10.5" fill="#000000"/>
<text x="1137.9" y="81.3" font-size="29.5" text-anchor="start">5<tspan dx="6.4">&#176;C</tspan></text>
<line x1="1069.2" y1="107" x2="1093.33" y2="107" stroke="#ff0000" stroke-width="1.3"/>
<line x1="1109.67" y1="107" x2="1133.1" y2="107" stroke="#ff0000" stroke-width="1.3"/>
<circle cx="1101.5" cy="107" r="5.67" fill="#ff0000"/>
<text x="1137.9" y="116.2" font-size="29.5" text-anchor="start">20<tspan dx="6.4">&#176;C</tspan></text>
<line x1="1069.2" y1="142" x2="1091.96" y2="142" stroke="#00ff00" stroke-width="1.3"/>
<line x1="1111.04" y1="142" x2="1133.1" y2="142" stroke="#00ff00" stroke-width="1.3"/>
<polygon points="1101.5,133.88 1094.46,146.06 1108.54,146.06" fill="#00ff00"/>
<text x="1137.9" y="150.6" font-size="29.5" text-anchor="start">40<tspan dx="6.4">&#176;C</tspan></text>
<line x1="1069.2" y1="176.5" x2="1091.96" y2="176.5" stroke="#0000ff" stroke-width="1.3"/>
<line x1="1111.04" y1="176.5" x2="1133.1" y2="176.5" stroke="#0000ff" stroke-width="1.3"/>
<polygon points="1101.5,184.62 1094.46,172.44 1108.54,172.44" fill="#0000ff"/>
<text x="1137.9" y="185.5" font-size="29.5" text-anchor="start">60<tspan dx="6.4">&#176;C</tspan></text>
<rect x="163.7" y="646.6" width="610.4" height="510.4" fill="none" stroke="#2b2b2b" stroke-width="1.8"/>
<line x1="154.7" y1="1110.2" x2="163.7" y2="1110.2" stroke="#2b2b2b" stroke-width="1.8"/>
<text transform="translate(148.2,1120.45) scale(1,1.05)" font-size="28.8" text-anchor="end">1x10<tspan font-size="17" dy="-13.2">-8</tspan></text>
<line x1="154.7" y1="1017.48" x2="163.7" y2="1017.48" stroke="#2b2b2b" stroke-width="1.8"/>
<text transform="translate(148.2,1027.73) scale(1,1.05)" font-size="28.8" text-anchor="end">2x10<tspan font-size="17" dy="-13.2">-8</tspan></text>
<line x1="154.7" y1="924.76" x2="163.7" y2="924.76" stroke="#2b2b2b" stroke-width="1.8"/>
<text transform="translate(148.2,935.01) scale(1,1.05)" font-size="28.8" text-anchor="end">3x10<tspan font-size="17" dy="-13.2">-8</tspan></text>
<line x1="154.7" y1="832.04" x2="163.7" y2="832.04" stroke="#2b2b2b" stroke-width="1.8"/>
<text transform="translate(148.2,842.29) scale(1,1.05)" font-size="28.8" text-anchor="end">4x10<tspan font-size="17" dy="-13.2">-8</tspan></text>
<line x1="154.7" y1="739.32" x2="163.7" y2="739.32" stroke="#2b2b2b" stroke-width="1.8"/>
<text transform="translate(148.2,749.57) scale(1,1.05)" font-size="28.8" text-anchor="end">5x10<tspan font-size="17" dy="-13.2">-8</tspan></text>
<line x1="154.7" y1="646.6" x2="163.7" y2="646.6" stroke="#2b2b2b" stroke-width="1.8"/>
<text transform="translate(148.2,656.85) scale(1,1.05)" font-size="28.8" text-anchor="end">6x10<tspan font-size="17" dy="-13.2">-8</tspan></text>
<line x1="158.7" y1="1156.56" x2="163.7" y2="1156.56" stroke="#2b2b2b" stroke-width="1.8"/>
<line x1="158.7" y1="1063.84" x2="163.7" y2="1063.84" stroke="#2b2b2b" stroke-width="1.8"/>
<line x1="158.7" y1="971.12" x2="163.7" y2="971.12" stroke="#2b2b2b" stroke-width="1.8"/>
<line x1="158.7" y1="878.4" x2="163.7" y2="878.4" stroke="#2b2b2b" stroke-width="1.8"/>
<line x1="158.7" y1="785.68" x2="163.7" y2="785.68" stroke="#2b2b2b" stroke-width="1.8"/>
<line x1="158.7" y1="692.96" x2="163.7" y2="692.96" stroke="#2b2b2b" stroke-width="1.8"/>
<line x1="197.6" y1="1157" x2="197.6" y2="1167" stroke="#2b2b2b" stroke-width="1.8"/>
<text transform="translate(197.6,1192.6) scale(1,1.05)" font-size="28.8" text-anchor="middle">0</text>
<line x1="296.35" y1="1157" x2="296.35" y2="1167" stroke="#2b2b2b" stroke-width="1.8"/>
<text transform="translate(296.35,1192.6) scale(1,1.05)" font-size="28.8" text-anchor="middle">600</text>
<line x1="395.1" y1="1157" x2="395.1" y2="1167" stroke="#2b2b2b" stroke-width="1.8"/>
<text transform="translate(395.1,1192.6) scale(1,1.05)" font-size="28.8" text-anchor="middle">1200</text>
<line x1="493.84" y1="1157" x2="493.84" y2="1167" stroke="#2b2b2b" stroke-width="1.8"/>
<text transform="translate(493.84,1192.6) scale(1,1.05)" font-size="28.8" text-anchor="middle">1800</text>
<line x1="592.59" y1="1157" x2="592.59" y2="1167" stroke="#2b2b2b" stroke-width="1.8"/>
<text transform="translate(592.59,1192.6) scale(1,1.05)" font-size="28.8" text-anchor="middle">2400</text>
<line x1="691.34" y1="1157" x2="691.34" y2="1167" stroke="#2b2b2b" stroke-width="1.8"/>
<text transform="translate(691.34,1192.6) scale(1,1.05)" font-size="28.8" text-anchor="middle">3000</text>
<line x1="164.68" y1="1157" x2="164.68" y2="1162" stroke="#2b2b2b" stroke-width="1.8"/>
<line x1="175.66" y1="1157" x2="175.66" y2="1162" stroke="#2b2b2b" stroke-width="1.8"/>
<line x1="186.63" y1="1157" x2="186.63" y2="1162" stroke="#2b2b2b" stroke-width="1.8"/>
<line x1="208.57" y1="1157" x2="208.57" y2="1162" stroke="#2b2b2b" stroke-width="1.8"/>
<line x1="219.54" y1="1157" x2="219.54" y2="1162" stroke="#2b2b2b" stroke-width="1.8"/>
<line x1="230.52" y1="1157" x2="230.52" y2="1162" stroke="#2b2b2b" stroke-width="1.8"/>
<line x1="241.49" y1="1157" x2="241.49" y2="1162" stroke="#2b2b2b" stroke-width="1.8"/>
<line x1="252.46" y1="1157" x2="252.46" y2="1162" stroke="#2b2b2b" stroke-width="1.8"/>
<line x1="263.43" y1="1157" x2="263.43" y2="1162" stroke="#2b2b2b" stroke-width="1.8"/>
<line x1="274.4" y1="1157" x2="274.4" y2="1162" stroke="#2b2b2b" stroke-width="1.8"/>
<line x1="285.38" y1="1157" x2="285.38" y2="1162" stroke="#2b2b2b" stroke-width="1.8"/>
<line x1="307.32" y1="1157" x2="307.32" y2="1162" stroke="#2b2b2b" stroke-width="1.8"/>
<line x1="318.29" y1="1157" x2="318.29" y2="1162" stroke="#2b2b2b" stroke-width="1.8"/>
<line x1="329.26" y1="1157" x2="329.26" y2="1162" stroke="#2b2b2b" stroke-width="1.8"/>
<line x1="340.24" y1="1157" x2="340.24" y2="1162" stroke="#2b2b2b" stroke-width="1.8"/>
<line x1="351.21" y1="1157" x2="351.21" y2="1162" stroke="#2b2b2b" stroke-width="1.8"/>
<line x1="362.18" y1="1157" x2="362.18" y2="1162" stroke="#2b2b2b" stroke-width="1.8"/>
<line x1="373.15" y1="1157" x2="373.15" y2="1162" stroke="#2b2b2b" stroke-width="1.8"/>
<line x1="384.12" y1="1157" x2="384.12" y2="1162" stroke="#2b2b2b" stroke-width="1.8"/>
<line x1="406.07" y1="1157" x2="406.07" y2="1162" stroke="#2b2b2b" stroke-width="1.8"/>
<line x1="417.04" y1="1157" x2="417.04" y2="1162" stroke="#2b2b2b" stroke-width="1.8"/>
<line x1="428.01" y1="1157" x2="428.01" y2="1162" stroke="#2b2b2b" stroke-width="1.8"/>
<line x1="438.98" y1="1157" x2="438.98" y2="1162" stroke="#2b2b2b" stroke-width="1.8"/>
<line x1="449.96" y1="1157" x2="449.96" y2="1162" stroke="#2b2b2b" stroke-width="1.8"/>
<line x1="460.93" y1="1157" x2="460.93" y2="1162" stroke="#2b2b2b" stroke-width="1.8"/>
<line x1="471.9" y1="1157" x2="471.9" y2="1162" stroke="#2b2b2b" stroke-width="1.8"/>
<line x1="482.87" y1="1157" x2="482.87" y2="1162" stroke="#2b2b2b" stroke-width="1.8"/>
<line x1="504.82" y1="1157" x2="504.82" y2="1162" stroke="#2b2b2b" stroke-width="1.8"/>
<line x1="515.79" y1="1157" x2="515.79" y2="1162" stroke="#2b2b2b" stroke-width="1.8"/>
<line x1="526.76" y1="1157" x2="526.76" y2="1162" stroke="#2b2b2b" stroke-width="1.8"/>
<line x1="537.73" y1="1157" x2="537.73" y2="1162" stroke="#2b2b2b" stroke-width="1.8"/>
<line x1="548.7" y1="1157" x2="548.7" y2="1162" stroke="#2b2b2b" stroke-width="1.8"/>
<line x1="559.68" y1="1157" x2="559.68" y2="1162" stroke="#2b2b2b" stroke-width="1.8"/>
<line x1="570.65" y1="1157" x2="570.65" y2="1162" stroke="#2b2b2b" stroke-width="1.8"/>
<line x1="581.62" y1="1157" x2="581.62" y2="1162" stroke="#2b2b2b" stroke-width="1.8"/>
<line x1="603.56" y1="1157" x2="603.56" y2="1162" stroke="#2b2b2b" stroke-width="1.8"/>
<line x1="614.54" y1="1157" x2="614.54" y2="1162" stroke="#2b2b2b" stroke-width="1.8"/>
<line x1="625.51" y1="1157" x2="625.51" y2="1162" stroke="#2b2b2b" stroke-width="1.8"/>
<line x1="636.48" y1="1157" x2="636.48" y2="1162" stroke="#2b2b2b" stroke-width="1.8"/>
<line x1="647.45" y1="1157" x2="647.45" y2="1162" stroke="#2b2b2b" stroke-width="1.8"/>
<line x1="658.42" y1="1157" x2="658.42" y2="1162" stroke="#2b2b2b" stroke-width="1.8"/>
<line x1="669.4" y1="1157" x2="669.4" y2="1162" stroke="#2b2b2b" stroke-width="1.8"/>
<line x1="680.37" y1="1157" x2="680.37" y2="1162" stroke="#2b2b2b" stroke-width="1.8"/>
<line x1="702.31" y1="1157" x2="702.31" y2="1162" stroke="#2b2b2b" stroke-width="1.8"/>
<line x1="713.28" y1="1157" x2="713.28" y2="1162" stroke="#2b2b2b" stroke-width="1.8"/>
<line x1="724.26" y1="1157" x2="724.26" y2="1162" stroke="#2b2b2b" stroke-width="1.8"/>
<line x1="735.23" y1="1157" x2="735.23" y2="1162" stroke="#2b2b2b" stroke-width="1.8"/>
<line x1="746.2" y1="1157" x2="746.2" y2="1162" stroke="#2b2b2b" stroke-width="1.8"/>
<line x1="757.17" y1="1157" x2="757.17" y2="1162" stroke="#2b2b2b" stroke-width="1.8"/>
<line x1="768.14" y1="1157" x2="768.14" y2="1162" stroke="#2b2b2b" stroke-width="1.8"/>
<text x="468" y="1243.5" font-size="34.2" text-anchor="middle">Duration (s)</text>
<text transform="translate(64.6,900.5) rotate(-90)" font-size="33.6" text-anchor="middle">Invariant <tspan font-style="italic">Q</tspan></text>
<text x="2" y="653.5" font-size="51.5" text-anchor="start">(c)</text>
<path d="M254.96 1102.09L288.36 1089.91M304.77 1085.83L386.68 1074.47M403.57 1072.64L485.37 1066.26M502.28 1064.6L584.15 1054.9M601.09 1053.9L682.84 1053.9" fill="none" stroke="#000000" stroke-width="1.05"/>
<line x1="202.54" y1="1131.5" x2="202.54" y2="1144.5" stroke="#000000" stroke-width="1.5"/>
<line x1="202.54" y1="1135" x2="202.54" y2="1141" stroke="#000000" stroke-width="1.5"/>
<line x1="191.54" y1="1135" x2="213.54" y2="1135" stroke="#000000" stroke-width="2.4"/>
<line x1="191.54" y1="1141" x2="213.54" y2="1141" stroke="#000000" stroke-width="2.4"/>
<line x1="207.47" y1="1126.5" x2="207.47" y2="1139.5" stroke="#000000" stroke-width="1.5"/>
<line x1="207.47" y1="1130" x2="207.47" y2="1136" stroke="#000000" stroke-width="1.5"/>
<line x1="196.47" y1="1130" x2="218.47" y2="1130" stroke="#000000" stroke-width="2.4"/>
<line x1="196.47" y1="1136" x2="218.47" y2="1136" stroke="#000000" stroke-width="2.4"/>
<line x1="212.41" y1="1122.5" x2="212.41" y2="1135.5" stroke="#000000" stroke-width="1.5"/>
<line x1="212.41" y1="1126" x2="212.41" y2="1132" stroke="#000000" stroke-width="1.5"/>
<line x1="201.41" y1="1126" x2="223.41" y2="1126" stroke="#000000" stroke-width="2.4"/>
<line x1="201.41" y1="1132" x2="223.41" y2="1132" stroke="#000000" stroke-width="2.4"/>
<line x1="217.35" y1="1118.5" x2="217.35" y2="1131.5" stroke="#000000" stroke-width="1.5"/>
<line x1="217.35" y1="1122" x2="217.35" y2="1128" stroke="#000000" stroke-width="1.5"/>
<line x1="206.35" y1="1122" x2="228.35" y2="1122" stroke="#000000" stroke-width="2.4"/>
<line x1="206.35" y1="1128" x2="228.35" y2="1128" stroke="#000000" stroke-width="2.4"/>
<line x1="227.22" y1="1110.5" x2="227.22" y2="1123.5" stroke="#000000" stroke-width="1.5"/>
<line x1="227.22" y1="1112" x2="227.22" y2="1122" stroke="#000000" stroke-width="1.5"/>
<line x1="216.22" y1="1112" x2="238.22" y2="1112" stroke="#000000" stroke-width="2.4"/>
<line x1="216.22" y1="1122" x2="238.22" y2="1122" stroke="#000000" stroke-width="2.4"/>
<line x1="237.1" y1="1099" x2="237.1" y2="1112" stroke="#000000" stroke-width="1.5"/>
<line x1="237.1" y1="1101.5" x2="237.1" y2="1109.5" stroke="#000000" stroke-width="1.5"/>
<line x1="226.1" y1="1101.5" x2="248.1" y2="1101.5" stroke="#000000" stroke-width="2.4"/>
<line x1="226.1" y1="1109.5" x2="248.1" y2="1109.5" stroke="#000000" stroke-width="2.4"/>
<line x1="246.97" y1="1098.5" x2="246.97" y2="1111.5" stroke="#000000" stroke-width="1.5"/>
<line x1="246.97" y1="1102" x2="246.97" y2="1108" stroke="#000000" stroke-width="1.5"/>
<line x1="235.97" y1="1102" x2="257.97" y2="1102" stroke="#000000" stroke-width="2.4"/>
<line x1="235.97" y1="1108" x2="257.97" y2="1108" stroke="#000000" stroke-width="2.4"/>
<line x1="296.35" y1="1080.5" x2="296.35" y2="1093.5" stroke="#000000" stroke-width="1.5"/>
<line x1="296.35" y1="1084.2" x2="296.35" y2="1089.8" stroke="#000000" stroke-width="1.5"/>
<line x1="285.35" y1="1084.2" x2="307.35" y2="1084.2" stroke="#000000" stroke-width="2.4"/>
<line x1="285.35" y1="1089.8" x2="307.35" y2="1089.8" stroke="#000000" stroke-width="2.4"/>
<line x1="395.1" y1="1066.8" x2="395.1" y2="1079.8" stroke="#000000" stroke-width="1.5"/>
<line x1="395.1" y1="1070.5" x2="395.1" y2="1076.1" stroke="#000000" stroke-width="1.5"/>
<line x1="384.1" y1="1070.5" x2="406.1" y2="1070.5" stroke="#000000" stroke-width="2.4"/>
<line x1="384.1" y1="1076.1" x2="406.1" y2="1076.1" stroke="#000000" stroke-width="2.4"/>
<line x1="493.84" y1="1059.1" x2="493.84" y2="1072.1" stroke="#000000" stroke-width="1.5"/>
<line x1="493.84" y1="1062.8" x2="493.84" y2="1068.4" stroke="#000000" stroke-width="1.5"/>
<line x1="482.84" y1="1062.8" x2="504.84" y2="1062.8" stroke="#000000" stroke-width="2.4"/>
<line x1="482.84" y1="1068.4" x2="504.84" y2="1068.4" stroke="#000000" stroke-width="2.4"/>
<line x1="592.59" y1="1047.4" x2="592.59" y2="1060.4" stroke="#000000" stroke-width="1.5"/>
<line x1="592.59" y1="1051.1" x2="592.59" y2="1056.7" stroke="#000000" stroke-width="1.5"/>
<line x1="581.59" y1="1051.1" x2="603.59" y2="1051.1" stroke="#000000" stroke-width="2.4"/>
<line x1="581.59" y1="1056.7" x2="603.59" y2="1056.7" stroke="#000000" stroke-width="2.4"/>
<line x1="691.34" y1="1047.4" x2="691.34" y2="1060.4" stroke="#000000" stroke-width="1.5"/>
<line x1="691.34" y1="1051.1" x2="691.34" y2="1056.7" stroke="#000000" stroke-width="1.5"/>
<line x1="680.34" y1="1051.1" x2="702.34" y2="1051.1" stroke="#000000" stroke-width="2.4"/>
<line x1="680.34" y1="1056.7" x2="702.34" y2="1056.7" stroke="#000000" stroke-width="2.4"/>
<rect x="197.74" y="1133.2" width="9.6" height="9.6" fill="#000000"/>
<rect x="202.67" y="1128.2" width="9.6" height="9.6" fill="#000000"/>
<rect x="207.61" y="1124.2" width="9.6" height="9.6" fill="#000000"/>
<rect x="212.55" y="1120.2" width="9.6" height="9.6" fill="#000000"/>
<rect x="222.42" y="1112.2" width="9.6" height="9.6" fill="#000000"/>
<rect x="232.3" y="1100.7" width="9.6" height="9.6" fill="#000000"/>
<rect x="242.17" y="1100.2" width="9.6" height="9.6" fill="#000000"/>
<rect x="291.55" y="1082.2" width="9.6" height="9.6" fill="#000000"/>
<rect x="390.3" y="1068.5" width="9.6" height="9.6" fill="#000000"/>
<rect x="489.04" y="1060.8" width="9.6" height="9.6" fill="#000000"/>
<rect x="587.79" y="1049.1" width="9.6" height="9.6" fill="#000000"/>
<rect x="686.54" y="1049.1" width="9.6" height="9.6" fill="#000000"/>
<path d="M255.32 991.39L288 985.11M304.77 982.33L386.68 970.97M403.47 968.36L485.47 954.24M502.24 951.47L584.2 938.43M600.95 935.56L682.98 920.44" fill="none" stroke="#ff0000" stroke-width="1.05"/>
<line x1="202.54" y1="1003" x2="202.54" y2="1013" stroke="#ff0000" stroke-width="1.5"/>
<line x1="191.54" y1="1003" x2="213.54" y2="1003" stroke="#ff0000" stroke-width="2.4"/>
<line x1="191.54" y1="1013" x2="213.54" y2="1013" stroke="#ff0000" stroke-width="2.4"/>
<line x1="207.47" y1="1000" x2="207.47" y2="1010" stroke="#ff0000" stroke-width="1.5"/>
<line x1="196.47" y1="1000" x2="218.47" y2="1000" stroke="#ff0000" stroke-width="2.4"/>
<line x1="196.47" y1="1010" x2="218.47" y2="1010" stroke="#ff0000" stroke-width="2.4"/>
<line x1="217.35" y1="996" x2="217.35" y2="1006" stroke="#ff0000" stroke-width="1.5"/>
<line x1="206.35" y1="996" x2="228.35" y2="996" stroke="#ff0000" stroke-width="2.4"/>
<line x1="206.35" y1="1006" x2="228.35" y2="1006" stroke="#ff0000" stroke-width="2.4"/>
<line x1="227.22" y1="993" x2="227.22" y2="1003" stroke="#ff0000" stroke-width="1.5"/>
<line x1="216.22" y1="993" x2="238.22" y2="993" stroke="#ff0000" stroke-width="2.4"/>
<line x1="216.22" y1="1003" x2="238.22" y2="1003" stroke="#ff0000" stroke-width="2.4"/>
<line x1="237.1" y1="991" x2="237.1" y2="1001" stroke="#ff0000" stroke-width="1.5"/>
<line x1="226.1" y1="991" x2="248.1" y2="991" stroke="#ff0000" stroke-width="2.4"/>
<line x1="226.1" y1="1001" x2="248.1" y2="1001" stroke="#ff0000" stroke-width="2.4"/>
<line x1="246.97" y1="988" x2="246.97" y2="998" stroke="#ff0000" stroke-width="1.5"/>
<line x1="235.97" y1="988" x2="257.97" y2="988" stroke="#ff0000" stroke-width="2.4"/>
<line x1="235.97" y1="998" x2="257.97" y2="998" stroke="#ff0000" stroke-width="2.4"/>
<line x1="296.35" y1="979" x2="296.35" y2="988" stroke="#ff0000" stroke-width="1.5"/>
<line x1="285.35" y1="979" x2="307.35" y2="979" stroke="#ff0000" stroke-width="2.4"/>
<line x1="285.35" y1="988" x2="307.35" y2="988" stroke="#ff0000" stroke-width="2.4"/>
<line x1="395.1" y1="964.8" x2="395.1" y2="974.8" stroke="#ff0000" stroke-width="1.5"/>
<line x1="384.1" y1="964.8" x2="406.1" y2="964.8" stroke="#ff0000" stroke-width="2.4"/>
<line x1="384.1" y1="974.8" x2="406.1" y2="974.8" stroke="#ff0000" stroke-width="2.4"/>
<line x1="493.84" y1="946.3" x2="493.84" y2="959.3" stroke="#ff0000" stroke-width="1.5"/>
<line x1="482.84" y1="946.3" x2="504.84" y2="946.3" stroke="#ff0000" stroke-width="2.4"/>
<line x1="482.84" y1="959.3" x2="504.84" y2="959.3" stroke="#ff0000" stroke-width="2.4"/>
<line x1="592.59" y1="930.3" x2="592.59" y2="943.9" stroke="#ff0000" stroke-width="1.5"/>
<line x1="581.59" y1="930.3" x2="603.59" y2="930.3" stroke="#ff0000" stroke-width="2.4"/>
<line x1="581.59" y1="943.9" x2="603.59" y2="943.9" stroke="#ff0000" stroke-width="2.4"/>
<line x1="691.34" y1="912.1" x2="691.34" y2="925.7" stroke="#ff0000" stroke-width="1.5"/>
<line x1="680.34" y1="912.1" x2="702.34" y2="912.1" stroke="#ff0000" stroke-width="2.4"/>
<line x1="680.34" y1="925.7" x2="702.34" y2="925.7" stroke="#ff0000" stroke-width="2.4"/>
<circle cx="202.54" cy="1008" r="5.18" fill="#ff0000"/>
<circle cx="207.47" cy="1005" r="5.18" fill="#ff0000"/>
<circle cx="217.35" cy="1001" r="5.18" fill="#ff0000"/>
<circle cx="227.22" cy="998" r="5.18" fill="#ff0000"/>
<circle cx="237.1" cy="996" r="5.18" fill="#ff0000"/>
<circle cx="246.97" cy="993" r="5.18" fill="#ff0000"/>
<circle cx="296.35" cy="983.5" r="5.18" fill="#ff0000"/>
<circle cx="395.1" cy="969.8" r="5.18" fill="#ff0000"/>
<circle cx="493.84" cy="952.8" r="5.18" fill="#ff0000"/>
<circle cx="592.59" cy="937.1" r="5.18" fill="#ff0000"/>
<circle cx="691.34" cy="918.9" r="5.18" fill="#ff0000"/>
<path d="M211.94 1098.77L212.89 1097.23M255.05 1070.84L288.28 1059.86M304.7 1055.63L386.74 1040.27M403.11 1035.87L485.83 1006.63M496.86 995.85L589.58 751.55M600.66 740.93L683.27 713.57" fill="none" stroke="#00ff00" stroke-width="1.05"/>
<line x1="202.54" y1="1102.5" x2="202.54" y2="1119.5" stroke="#00ff00" stroke-width="1.5"/>
<line x1="202.54" y1="1106.5" x2="202.54" y2="1115.5" stroke="#00ff00" stroke-width="1.5"/>
<line x1="191.54" y1="1106.5" x2="213.54" y2="1106.5" stroke="#00ff00" stroke-width="2.4"/>
<line x1="191.54" y1="1115.5" x2="213.54" y2="1115.5" stroke="#00ff00" stroke-width="2.4"/>
<line x1="207.47" y1="1097.5" x2="207.47" y2="1114.5" stroke="#00ff00" stroke-width="1.5"/>
<line x1="207.47" y1="1101.5" x2="207.47" y2="1110.5" stroke="#00ff00" stroke-width="1.5"/>
<line x1="196.47" y1="1101.5" x2="218.47" y2="1101.5" stroke="#00ff00" stroke-width="2.4"/>
<line x1="196.47" y1="1110.5" x2="218.47" y2="1110.5" stroke="#00ff00" stroke-width="2.4"/>
<line x1="217.35" y1="1081.5" x2="217.35" y2="1098.5" stroke="#00ff00" stroke-width="1.5"/>
<line x1="217.35" y1="1086" x2="217.35" y2="1094" stroke="#00ff00" stroke-width="1.5"/>
<line x1="206.35" y1="1086" x2="228.35" y2="1086" stroke="#00ff00" stroke-width="2.4"/>
<line x1="206.35" y1="1094" x2="228.35" y2="1094" stroke="#00ff00" stroke-width="2.4"/>
<line x1="227.22" y1="1075.5" x2="227.22" y2="1092.5" stroke="#00ff00" stroke-width="1.5"/>
<line x1="227.22" y1="1080" x2="227.22" y2="1088" stroke="#00ff00" stroke-width="1.5"/>
<line x1="216.22" y1="1080" x2="238.22" y2="1080" stroke="#00ff00" stroke-width="2.4"/>
<line x1="216.22" y1="1088" x2="238.22" y2="1088" stroke="#00ff00" stroke-width="2.4"/>
<line x1="237.1" y1="1065.5" x2="237.1" y2="1082.5" stroke="#00ff00" stroke-width="1.5"/>
<line x1="237.1" y1="1071" x2="237.1" y2="1077" stroke="#00ff00" stroke-width="1.5"/>
<line x1="226.1" y1="1071" x2="248.1" y2="1071" stroke="#00ff00" stroke-width="2.4"/>
<line x1="226.1" y1="1077" x2="248.1" y2="1077" stroke="#00ff00" stroke-width="2.4"/>
<line x1="246.97" y1="1065" x2="246.97" y2="1082" stroke="#00ff00" stroke-width="1.5"/>
<line x1="246.97" y1="1070.5" x2="246.97" y2="1076.5" stroke="#00ff00" stroke-width="1.5"/>
<line x1="235.97" y1="1070.5" x2="257.97" y2="1070.5" stroke="#00ff00" stroke-width="2.4"/>
<line x1="235.97" y1="1076.5" x2="257.97" y2="1076.5" stroke="#00ff00" stroke-width="2.4"/>
<line x1="296.35" y1="1048.7" x2="296.35" y2="1065.7" stroke="#00ff00" stroke-width="1.5"/>
<line x1="296.35" y1="1053.2" x2="296.35" y2="1061.2" stroke="#00ff00" stroke-width="1.5"/>
<line x1="285.35" y1="1053.2" x2="307.35" y2="1053.2" stroke="#00ff00" stroke-width="2.4"/>
<line x1="285.35" y1="1061.2" x2="307.35" y2="1061.2" stroke="#00ff00" stroke-width="2.4"/>
<line x1="395.1" y1="1030.2" x2="395.1" y2="1047.2" stroke="#00ff00" stroke-width="1.5"/>
<line x1="395.1" y1="1034.7" x2="395.1" y2="1042.7" stroke="#00ff00" stroke-width="1.5"/>
<line x1="384.1" y1="1034.7" x2="406.1" y2="1034.7" stroke="#00ff00" stroke-width="2.4"/>
<line x1="384.1" y1="1042.7" x2="406.1" y2="1042.7" stroke="#00ff00" stroke-width="2.4"/>
<line x1="493.84" y1="995.3" x2="493.84" y2="1012.3" stroke="#00ff00" stroke-width="1.5"/>
<line x1="493.84" y1="996.3" x2="493.84" y2="1011.3" stroke="#00ff00" stroke-width="1.5"/>
<line x1="482.84" y1="996.3" x2="504.84" y2="996.3" stroke="#00ff00" stroke-width="2.4"/>
<line x1="482.84" y1="1011.3" x2="504.84" y2="1011.3" stroke="#00ff00" stroke-width="2.4"/>
<line x1="592.59" y1="735.1" x2="592.59" y2="752.1" stroke="#00ff00" stroke-width="1.5"/>
<line x1="592.59" y1="734.5" x2="592.59" y2="752.7" stroke="#00ff00" stroke-width="1.5"/>
<line x1="581.59" y1="734.5" x2="603.59" y2="734.5" stroke="#00ff00" stroke-width="2.4"/>
<line x1="581.59" y1="752.7" x2="603.59" y2="752.7" stroke="#00ff00" stroke-width="2.4"/>
<line x1="691.34" y1="702.4" x2="691.34" y2="719.4" stroke="#00ff00" stroke-width="1.5"/>
<line x1="691.34" y1="701.2" x2="691.34" y2="720.6" stroke="#00ff00" stroke-width="1.5"/>
<line x1="680.34" y1="701.2" x2="702.34" y2="701.2" stroke="#00ff00" stroke-width="2.4"/>
<line x1="680.34" y1="720.6" x2="702.34" y2="720.6" stroke="#00ff00" stroke-width="2.4"/>
<polygon points="202.54,1103.57 196.11,1114.71 208.97,1114.71" fill="#00ff00"/>
<polygon points="207.47,1098.57 201.04,1109.71 213.91,1109.71" fill="#00ff00"/>
<polygon points="217.35,1082.57 210.92,1093.71 223.78,1093.71" fill="#00ff00"/>
<polygon points="227.22,1076.57 220.79,1087.71 233.66,1087.71" fill="#00ff00"/>
<polygon points="237.1,1066.57 230.67,1077.71 243.53,1077.71" fill="#00ff00"/>
<polygon points="246.97,1066.07 240.54,1077.21 253.41,1077.21" fill="#00ff00"/>
<polygon points="296.35,1049.77 289.92,1060.91 302.78,1060.91" fill="#00ff00"/>
<polygon points="395.1,1031.27 388.66,1042.41 401.53,1042.41" fill="#00ff00"/>
<polygon points="493.84,996.37 487.41,1007.51 500.28,1007.51" fill="#00ff00"/>
<polygon points="592.59,736.17 586.16,747.31 599.02,747.31" fill="#00ff00"/>
<polygon points="691.34,703.47 684.91,714.61 697.77,714.61" fill="#00ff00"/>
<path d="M255.4 978.86L287.93 974.44M304.73 971.87L386.72 957.93M403.24 954.07L485.7 929.43M501.84 924.12L584.59 894.38M600.71 888.97L683.23 863.23" fill="none" stroke="#0000ff" stroke-width="1.05"/>
<line x1="202.54" y1="983.5" x2="202.54" y2="1000.5" stroke="#0000ff" stroke-width="1.5"/>
<line x1="202.54" y1="989" x2="202.54" y2="995" stroke="#0000ff" stroke-width="1.5"/>
<line x1="191.54" y1="989" x2="213.54" y2="989" stroke="#0000ff" stroke-width="2.4"/>
<line x1="191.54" y1="995" x2="213.54" y2="995" stroke="#0000ff" stroke-width="2.4"/>
<line x1="207.47" y1="982.5" x2="207.47" y2="999.5" stroke="#0000ff" stroke-width="1.5"/>
<line x1="207.47" y1="988" x2="207.47" y2="994" stroke="#0000ff" stroke-width="1.5"/>
<line x1="196.47" y1="988" x2="218.47" y2="988" stroke="#0000ff" stroke-width="2.4"/>
<line x1="196.47" y1="994" x2="218.47" y2="994" stroke="#0000ff" stroke-width="2.4"/>
<line x1="217.35" y1="980.5" x2="217.35" y2="997.5" stroke="#0000ff" stroke-width="1.5"/>
<line x1="217.35" y1="986" x2="217.35" y2="992" stroke="#0000ff" stroke-width="1.5"/>
<line x1="206.35" y1="986" x2="228.35" y2="986" stroke="#0000ff" stroke-width="2.4"/>
<line x1="206.35" y1="992" x2="228.35" y2="992" stroke="#0000ff" stroke-width="2.4"/>
<line x1="227.22" y1="979.5" x2="227.22" y2="996.5" stroke="#0000ff" stroke-width="1.5"/>
<line x1="227.22" y1="985" x2="227.22" y2="991" stroke="#0000ff" stroke-width="1.5"/>
<line x1="216.22" y1="985" x2="238.22" y2="985" stroke="#0000ff" stroke-width="2.4"/>
<line x1="216.22" y1="991" x2="238.22" y2="991" stroke="#0000ff" stroke-width="2.4"/>
<line x1="237.1" y1="976.5" x2="237.1" y2="993.5" stroke="#0000ff" stroke-width="1.5"/>
<line x1="237.1" y1="982" x2="237.1" y2="988" stroke="#0000ff" stroke-width="1.5"/>
<line x1="226.1" y1="982" x2="248.1" y2="982" stroke="#0000ff" stroke-width="2.4"/>
<line x1="226.1" y1="988" x2="248.1" y2="988" stroke="#0000ff" stroke-width="2.4"/>
<line x1="246.97" y1="971.5" x2="246.97" y2="988.5" stroke="#0000ff" stroke-width="1.5"/>
<line x1="246.97" y1="977" x2="246.97" y2="983" stroke="#0000ff" stroke-width="1.5"/>
<line x1="235.97" y1="977" x2="257.97" y2="977" stroke="#0000ff" stroke-width="2.4"/>
<line x1="235.97" y1="983" x2="257.97" y2="983" stroke="#0000ff" stroke-width="2.4"/>
<line x1="296.35" y1="964.8" x2="296.35" y2="981.8" stroke="#0000ff" stroke-width="1.5"/>
<line x1="296.35" y1="970.6" x2="296.35" y2="976" stroke="#0000ff" stroke-width="1.5"/>
<line x1="285.35" y1="970.6" x2="307.35" y2="970.6" stroke="#0000ff" stroke-width="2.4"/>
<line x1="285.35" y1="976" x2="307.35" y2="976" stroke="#0000ff" stroke-width="2.4"/>
<line x1="395.1" y1="948" x2="395.1" y2="965" stroke="#0000ff" stroke-width="1.5"/>
<line x1="395.1" y1="953.8" x2="395.1" y2="959.2" stroke="#0000ff" stroke-width="1.5"/>
<line x1="384.1" y1="953.8" x2="406.1" y2="953.8" stroke="#0000ff" stroke-width="2.4"/>
<line x1="384.1" y1="959.2" x2="406.1" y2="959.2" stroke="#0000ff" stroke-width="2.4"/>
<line x1="493.84" y1="918.5" x2="493.84" y2="935.5" stroke="#0000ff" stroke-width="1.5"/>
<line x1="493.84" y1="924.3" x2="493.84" y2="929.7" stroke="#0000ff" stroke-width="1.5"/>
<line x1="482.84" y1="924.3" x2="504.84" y2="924.3" stroke="#0000ff" stroke-width="2.4"/>
<line x1="482.84" y1="929.7" x2="504.84" y2="929.7" stroke="#0000ff" stroke-width="2.4"/>
<line x1="592.59" y1="883" x2="592.59" y2="900" stroke="#0000ff" stroke-width="1.5"/>
<line x1="592.59" y1="888.8" x2="592.59" y2="894.2" stroke="#0000ff" stroke-width="1.5"/>
<line x1="581.59" y1="888.8" x2="603.59" y2="888.8" stroke="#0000ff" stroke-width="2.4"/>
<line x1="581.59" y1="894.2" x2="603.59" y2="894.2" stroke="#0000ff" stroke-width="2.4"/>
<line x1="691.34" y1="852.2" x2="691.34" y2="869.2" stroke="#0000ff" stroke-width="1.5"/>
<line x1="691.34" y1="858" x2="691.34" y2="863.4" stroke="#0000ff" stroke-width="1.5"/>
<line x1="680.34" y1="858" x2="702.34" y2="858" stroke="#0000ff" stroke-width="2.4"/>
<line x1="680.34" y1="863.4" x2="702.34" y2="863.4" stroke="#0000ff" stroke-width="2.4"/>
<polygon points="202.54,999.43 196.11,988.29 208.97,988.29" fill="#0000ff"/>
<polygon points="207.47,998.43 201.04,987.29 213.91,987.29" fill="#0000ff"/>
<polygon points="217.35,996.43 210.92,985.29 223.78,985.29" fill="#0000ff"/>
<polygon points="227.22,995.43 220.79,984.29 233.66,984.29" fill="#0000ff"/>
<polygon points="237.1,992.43 230.67,981.29 243.53,981.29" fill="#0000ff"/>
<polygon points="246.97,987.43 240.54,976.29 253.41,976.29" fill="#0000ff"/>
<polygon points="296.35,980.73 289.92,969.59 302.78,969.59" fill="#0000ff"/>
<polygon points="395.1,963.93 388.66,952.79 401.53,952.79" fill="#0000ff"/>
<polygon points="493.84,934.43 487.41,923.29 500.28,923.29" fill="#0000ff"/>
<polygon points="592.59,898.93 586.16,887.79 599.02,887.79" fill="#0000ff"/>
<polygon points="691.34,868.13 684.91,856.99 697.77,856.99" fill="#0000ff"/>
<line x1="273.3" y1="717.3" x2="296.8" y2="717.3" stroke="#000000" stroke-width="1.3"/>
<line x1="312.8" y1="717.3" x2="336.6" y2="717.3" stroke="#000000" stroke-width="1.3"/>
<rect x="299.3" y="711.8" width="11" height="11" fill="#000000"/>
<text x="342.5" y="725.8" font-size="29.5" text-anchor="start">5<tspan dx="6.4">&#176;C</tspan></text>
<line x1="273.3" y1="753" x2="296.36" y2="753" stroke="#ff0000" stroke-width="1.3"/>
<line x1="313.24" y1="753" x2="336.6" y2="753" stroke="#ff0000" stroke-width="1.3"/>
<circle cx="304.8" cy="753" r="5.94" fill="#ff0000"/>
<text x="342.5" y="761.5" font-size="29.5" text-anchor="start">20<tspan dx="6.4">&#176;C</tspan></text>
<line x1="273.3" y1="787" x2="294.93" y2="787" stroke="#00ff00" stroke-width="1.3"/>
<line x1="314.67" y1="787" x2="336.6" y2="787" stroke="#00ff00" stroke-width="1.3"/>
<polygon points="304.8,778.49 297.43,791.25 312.17,791.25" fill="#00ff00"/>
<text x="342.5" y="796.7" font-size="29.5" text-anchor="start">40<tspan dx="6.4">&#176;C</tspan></text>
<line x1="273.3" y1="822.5" x2="294.93" y2="822.5" stroke="#0000ff" stroke-width="1.3"/>
<line x1="314.67" y1="822.5" x2="336.6" y2="822.5" stroke="#0000ff" stroke-width="1.3"/>
<polygon points="304.8,831.01 297.43,818.25 312.17,818.25" fill="#0000ff"/>
<text x="342.5" y="830.6" font-size="29.5" text-anchor="start">60<tspan dx="6.4">&#176;C</tspan></text>
<rect x="1000.2" y="649.7" width="643.8" height="505.3" fill="none" stroke="#2b2b2b" stroke-width="1.8"/>
<line x1="990.2" y1="1155" x2="1000.2" y2="1155" stroke="#2b2b2b" stroke-width="1.8"/>
<text transform="translate(983.2,1163.55) scale(1,1.05)" font-size="28.8" text-anchor="end">0.1</text>
<line x1="990.2" y1="1091.84" x2="1000.2" y2="1091.84" stroke="#2b2b2b" stroke-width="1.8"/>
<text transform="translate(983.2,1100.39) scale(1,1.05)" font-size="28.8" text-anchor="end">0.2</text>
<line x1="990.2" y1="1028.68" x2="1000.2" y2="1028.68" stroke="#2b2b2b" stroke-width="1.8"/>
<text transform="translate(983.2,1037.23) scale(1,1.05)" font-size="28.8" text-anchor="end">0.3</text>
<line x1="990.2" y1="965.52" x2="1000.2" y2="965.52" stroke="#2b2b2b" stroke-width="1.8"/>
<text transform="translate(983.2,974.07) scale(1,1.05)" font-size="28.8" text-anchor="end">0.4</text>
<line x1="990.2" y1="902.36" x2="1000.2" y2="902.36" stroke="#2b2b2b" stroke-width="1.8"/>
<text transform="translate(983.2,910.91) scale(1,1.05)" font-size="28.8" text-anchor="end">0.5</text>
<line x1="990.2" y1="839.2" x2="1000.2" y2="839.2" stroke="#2b2b2b" stroke-width="1.8"/>
<text transform="translate(983.2,847.75) scale(1,1.05)" font-size="28.8" text-anchor="end">0.6</text>
<line x1="990.2" y1="776.04" x2="1000.2" y2="776.04" stroke="#2b2b2b" stroke-width="1.8"/>
<text transform="translate(983.2,784.59) scale(1,1.05)" font-size="28.8" text-anchor="end">0.7</text>
<line x1="990.2" y1="712.88" x2="1000.2" y2="712.88" stroke="#2b2b2b" stroke-width="1.8"/>
<text transform="translate(983.2,721.43) scale(1,1.05)" font-size="28.8" text-anchor="end">0.8</text>
<line x1="990.2" y1="649.72" x2="1000.2" y2="649.72" stroke="#2b2b2b" stroke-width="1.8"/>
<text transform="translate(983.2,658.27) scale(1,1.05)" font-size="28.8" text-anchor="end">0.9</text>
<line x1="995.2" y1="1123.42" x2="1000.2" y2="1123.42" stroke="#2b2b2b" stroke-width="1.8"/>
<line x1="995.2" y1="1060.26" x2="1000.2" y2="1060.26" stroke="#2b2b2b" stroke-width="1.8"/>
<line x1="995.2" y1="997.1" x2="1000.2" y2="997.1" stroke="#2b2b2b" stroke-width="1.8"/>
<line x1="995.2" y1="933.94" x2="1000.2" y2="933.94" stroke="#2b2b2b" stroke-width="1.8"/>
<line x1="995.2" y1="870.78" x2="1000.2" y2="870.78" stroke="#2b2b2b" stroke-width="1.8"/>
<line x1="995.2" y1="807.62" x2="1000.2" y2="807.62" stroke="#2b2b2b" stroke-width="1.8"/>
<line x1="995.2" y1="744.46" x2="1000.2" y2="744.46" stroke="#2b2b2b" stroke-width="1.8"/>
<line x1="995.2" y1="681.3" x2="1000.2" y2="681.3" stroke="#2b2b2b" stroke-width="1.8"/>
<line x1="1044.5" y1="1155" x2="1044.5" y2="1165" stroke="#2b2b2b" stroke-width="1.8"/>
<text transform="translate(1044.5,1191.1) scale(1,1.05)" font-size="28.8" text-anchor="middle">0</text>
<line x1="1134.47" y1="1155" x2="1134.47" y2="1165" stroke="#2b2b2b" stroke-width="1.8"/>
<text transform="translate(1134.47,1191.1) scale(1,1.05)" font-size="28.8" text-anchor="middle">600</text>
<line x1="1224.44" y1="1155" x2="1224.44" y2="1165" stroke="#2b2b2b" stroke-width="1.8"/>
<text transform="translate(1224.44,1191.1) scale(1,1.05)" font-size="28.8" text-anchor="middle">1200</text>
<line x1="1314.41" y1="1155" x2="1314.41" y2="1165" stroke="#2b2b2b" stroke-width="1.8"/>
<text transform="translate(1314.41,1191.1) scale(1,1.05)" font-size="28.8" text-anchor="middle">1800</text>
<line x1="1404.38" y1="1155" x2="1404.38" y2="1165" stroke="#2b2b2b" stroke-width="1.8"/>
<text transform="translate(1404.38,1191.1) scale(1,1.05)" font-size="28.8" text-anchor="middle">2400</text>
<line x1="1494.35" y1="1155" x2="1494.35" y2="1165" stroke="#2b2b2b" stroke-width="1.8"/>
<text transform="translate(1494.35,1191.1) scale(1,1.05)" font-size="28.8" text-anchor="middle">3000</text>
<line x1="1584.32" y1="1155" x2="1584.32" y2="1165" stroke="#2b2b2b" stroke-width="1.8"/>
<text transform="translate(1584.32,1191.1) scale(1,1.05)" font-size="28.8" text-anchor="middle">3600</text>
<line x1="1089.48" y1="1155" x2="1089.48" y2="1160" stroke="#2b2b2b" stroke-width="1.8"/>
<line x1="1179.45" y1="1155" x2="1179.45" y2="1160" stroke="#2b2b2b" stroke-width="1.8"/>
<line x1="1269.42" y1="1155" x2="1269.42" y2="1160" stroke="#2b2b2b" stroke-width="1.8"/>
<line x1="1359.39" y1="1155" x2="1359.39" y2="1160" stroke="#2b2b2b" stroke-width="1.8"/>
<line x1="1449.37" y1="1155" x2="1449.37" y2="1160" stroke="#2b2b2b" stroke-width="1.8"/>
<line x1="1539.34" y1="1155" x2="1539.34" y2="1160" stroke="#2b2b2b" stroke-width="1.8"/>
<line x1="1629.3" y1="1155" x2="1629.3" y2="1160" stroke="#2b2b2b" stroke-width="1.8"/>
<text x="1321.5" y="1229" font-size="34.2" text-anchor="middle">Duration (s)</text>
<text transform="translate(936,901.5) rotate(-90)" font-size="34.2" text-anchor="middle">Depth (&#956;m)</text>
<text x="867.5" y="654.5" font-size="51.5" text-anchor="start">(d)</text>
<path d="M1139.5 1079.89L1219.41 1014.61M1229.81 1014.16L1309.04 1068.14M1320.4 1069.28L1398.39 1036.52M1409.88 1030.54L1488.85 980.96M1498.79 982.25L1579.88 1068.95" fill="none" stroke="#000000" stroke-width="1.2"/>
<line x1="1134.47" y1="1063.5" x2="1134.47" y2="1104.5" stroke="#000000" stroke-width="1.25"/>
<line x1="1130.17" y1="1063.5" x2="1138.77" y2="1063.5" stroke="#000000" stroke-width="1.25"/>
<line x1="1130.17" y1="1104.5" x2="1138.77" y2="1104.5" stroke="#000000" stroke-width="1.25"/>
<line x1="1224.44" y1="990.5" x2="1224.44" y2="1030.5" stroke="#000000" stroke-width="1.25"/>
<line x1="1220.14" y1="990.5" x2="1228.74" y2="990.5" stroke="#000000" stroke-width="1.25"/>
<line x1="1220.14" y1="1030.5" x2="1228.74" y2="1030.5" stroke="#000000" stroke-width="1.25"/>
<line x1="1314.41" y1="1058.5" x2="1314.41" y2="1085.1" stroke="#000000" stroke-width="1.25"/>
<line x1="1310.11" y1="1058.5" x2="1318.71" y2="1058.5" stroke="#000000" stroke-width="1.25"/>
<line x1="1310.11" y1="1085.1" x2="1318.71" y2="1085.1" stroke="#000000" stroke-width="1.25"/>
<line x1="1404.38" y1="972" x2="1404.38" y2="1096" stroke="#000000" stroke-width="1.25"/>
<line x1="1400.08" y1="972" x2="1408.68" y2="972" stroke="#000000" stroke-width="1.25"/>
<line x1="1400.08" y1="1096" x2="1408.68" y2="1096" stroke="#000000" stroke-width="1.25"/>
<line x1="1494.35" y1="922.9" x2="1494.35" y2="1032.1" stroke="#000000" stroke-width="1.25"/>
<line x1="1490.05" y1="922.9" x2="1498.65" y2="922.9" stroke="#000000" stroke-width="1.25"/>
<line x1="1490.05" y1="1032.1" x2="1498.65" y2="1032.1" stroke="#000000" stroke-width="1.25"/>
<line x1="1584.32" y1="1015.7" x2="1584.32" y2="1131.7" stroke="#000000" stroke-width="1.25"/>
<line x1="1580.02" y1="1015.7" x2="1588.62" y2="1015.7" stroke="#000000" stroke-width="1.25"/>
<line x1="1580.02" y1="1131.7" x2="1588.62" y2="1131.7" stroke="#000000" stroke-width="1.25"/>
<rect x="1129.72" y="1079.25" width="9.5" height="9.5" fill="#000000"/>
<rect x="1219.69" y="1005.75" width="9.5" height="9.5" fill="#000000"/>
<rect x="1309.66" y="1067.05" width="9.5" height="9.5" fill="#000000"/>
<rect x="1399.63" y="1029.25" width="9.5" height="9.5" fill="#000000"/>
<rect x="1489.6" y="972.75" width="9.5" height="9.5" fill="#000000"/>
<rect x="1579.57" y="1068.95" width="9.5" height="9.5" fill="#000000"/>
<path d="M1140.96 1084.8L1217.95 1088.3M1230.29 1085.77L1308.56 1047.93M1320.88 1044.46L1397.91 1036.84M1410.69 1037.76L1488.04 1056.94M1500.35 1056L1578.32 1023.5" fill="none" stroke="#ff0000" stroke-width="1.2"/>
<line x1="1134.47" y1="1034.5" x2="1134.47" y2="1134.5" stroke="#ff0000" stroke-width="1.25"/>
<line x1="1130.17" y1="1034.5" x2="1138.77" y2="1034.5" stroke="#ff0000" stroke-width="1.25"/>
<line x1="1130.17" y1="1134.5" x2="1138.77" y2="1134.5" stroke="#ff0000" stroke-width="1.25"/>
<line x1="1224.44" y1="1056.3" x2="1224.44" y2="1120.9" stroke="#ff0000" stroke-width="1.25"/>
<line x1="1220.14" y1="1056.3" x2="1228.74" y2="1056.3" stroke="#ff0000" stroke-width="1.25"/>
<line x1="1220.14" y1="1120.9" x2="1228.74" y2="1120.9" stroke="#ff0000" stroke-width="1.25"/>
<line x1="1314.41" y1="993.3" x2="1314.41" y2="1096.9" stroke="#ff0000" stroke-width="1.25"/>
<line x1="1310.11" y1="993.3" x2="1318.71" y2="993.3" stroke="#ff0000" stroke-width="1.25"/>
<line x1="1310.11" y1="1096.9" x2="1318.71" y2="1096.9" stroke="#ff0000" stroke-width="1.25"/>
<line x1="1404.38" y1="1009.2" x2="1404.38" y2="1063.2" stroke="#ff0000" stroke-width="1.25"/>
<line x1="1400.08" y1="1009.2" x2="1408.68" y2="1009.2" stroke="#ff0000" stroke-width="1.25"/>
<line x1="1400.08" y1="1063.2" x2="1408.68" y2="1063.2" stroke="#ff0000" stroke-width="1.25"/>
<line x1="1494.35" y1="1032.8" x2="1494.35" y2="1084.2" stroke="#ff0000" stroke-width="1.25"/>
<line x1="1490.05" y1="1032.8" x2="1498.65" y2="1032.8" stroke="#ff0000" stroke-width="1.25"/>
<line x1="1490.05" y1="1084.2" x2="1498.65" y2="1084.2" stroke="#ff0000" stroke-width="1.25"/>
<line x1="1584.32" y1="1013.5" x2="1584.32" y2="1028.5" stroke="#ff0000" stroke-width="1.25"/>
<line x1="1580.02" y1="1013.5" x2="1588.62" y2="1013.5" stroke="#ff0000" stroke-width="1.25"/>
<line x1="1580.02" y1="1028.5" x2="1588.62" y2="1028.5" stroke="#ff0000" stroke-width="1.25"/>
<circle cx="1134.47" cy="1084.5" r="5.13" fill="#ff0000"/>
<circle cx="1224.44" cy="1088.6" r="5.13" fill="#ff0000"/>
<circle cx="1314.41" cy="1045.1" r="5.13" fill="#ff0000"/>
<circle cx="1404.38" cy="1036.2" r="5.13" fill="#ff0000"/>
<circle cx="1494.35" cy="1058.5" r="5.13" fill="#ff0000"/>
<circle cx="1584.32" cy="1021" r="5.13" fill="#ff0000"/>
<path d="M1140.7 1102.16L1218.21 1079.24M1229.23 1073.01L1309.62 999.29M1320.87 995.65L1397.92 1004.65M1409.37 1001.23L1489.36 934.37M1497.48 924.5L1581.19 772.2" fill="none" stroke="#00ff00" stroke-width="1.2"/>
<line x1="1134.47" y1="1073" x2="1134.47" y2="1135" stroke="#00ff00" stroke-width="1.25"/>
<line x1="1130.17" y1="1073" x2="1138.77" y2="1073" stroke="#00ff00" stroke-width="1.25"/>
<line x1="1130.17" y1="1135" x2="1138.77" y2="1135" stroke="#00ff00" stroke-width="1.25"/>
<line x1="1224.44" y1="1063.4" x2="1224.44" y2="1091.4" stroke="#00ff00" stroke-width="1.25"/>
<line x1="1220.14" y1="1063.4" x2="1228.74" y2="1063.4" stroke="#00ff00" stroke-width="1.25"/>
<line x1="1220.14" y1="1091.4" x2="1228.74" y2="1091.4" stroke="#00ff00" stroke-width="1.25"/>
<line x1="1314.41" y1="982.4" x2="1314.41" y2="1007.4" stroke="#00ff00" stroke-width="1.25"/>
<line x1="1310.11" y1="982.4" x2="1318.71" y2="982.4" stroke="#00ff00" stroke-width="1.25"/>
<line x1="1310.11" y1="1007.4" x2="1318.71" y2="1007.4" stroke="#00ff00" stroke-width="1.25"/>
<line x1="1404.38" y1="968.9" x2="1404.38" y2="1041.9" stroke="#00ff00" stroke-width="1.25"/>
<line x1="1400.08" y1="968.9" x2="1408.68" y2="968.9" stroke="#00ff00" stroke-width="1.25"/>
<line x1="1400.08" y1="1041.9" x2="1408.68" y2="1041.9" stroke="#00ff00" stroke-width="1.25"/>
<line x1="1494.35" y1="881.2" x2="1494.35" y2="979.2" stroke="#00ff00" stroke-width="1.25"/>
<line x1="1490.05" y1="881.2" x2="1498.65" y2="881.2" stroke="#00ff00" stroke-width="1.25"/>
<line x1="1490.05" y1="979.2" x2="1498.65" y2="979.2" stroke="#00ff00" stroke-width="1.25"/>
<line x1="1584.32" y1="715" x2="1584.32" y2="818" stroke="#00ff00" stroke-width="1.25"/>
<line x1="1580.02" y1="715" x2="1588.62" y2="715" stroke="#00ff00" stroke-width="1.25"/>
<line x1="1580.02" y1="818" x2="1588.62" y2="818" stroke="#00ff00" stroke-width="1.25"/>
<polygon points="1134.47,1096.65 1128.11,1107.67 1140.84,1107.67" fill="#00ff00"/>
<polygon points="1224.44,1070.05 1218.08,1081.07 1230.81,1081.07" fill="#00ff00"/>
<polygon points="1314.41,987.55 1308.05,998.57 1320.78,998.57" fill="#00ff00"/>
<polygon points="1404.38,998.05 1398.02,1009.07 1410.75,1009.07" fill="#00ff00"/>
<polygon points="1494.35,922.85 1487.98,933.87 1500.71,933.87" fill="#00ff00"/>
<polygon points="1584.32,759.15 1577.96,770.17 1590.69,770.17" fill="#00ff00"/>
<path d="M1138.68 1026.54L1220.23 930.46M1228.74 920.63L1310.11 828.47M1319.37 819.4L1399.42 751.5M1410.79 746.21L1487.94 733.09M1500.42 729.67L1578.25 699.83" fill="none" stroke="#0000ff" stroke-width="1.2"/>
<line x1="1134.47" y1="989" x2="1134.47" y2="1074" stroke="#0000ff" stroke-width="1.25"/>
<line x1="1130.17" y1="989" x2="1138.77" y2="989" stroke="#0000ff" stroke-width="1.25"/>
<line x1="1130.17" y1="1074" x2="1138.77" y2="1074" stroke="#0000ff" stroke-width="1.25"/>
<line x1="1224.44" y1="875.1" x2="1224.44" y2="975.9" stroke="#0000ff" stroke-width="1.25"/>
<line x1="1220.14" y1="875.1" x2="1228.74" y2="875.1" stroke="#0000ff" stroke-width="1.25"/>
<line x1="1220.14" y1="975.9" x2="1228.74" y2="975.9" stroke="#0000ff" stroke-width="1.25"/>
<line x1="1314.41" y1="797.6" x2="1314.41" y2="849.6" stroke="#0000ff" stroke-width="1.25"/>
<line x1="1310.11" y1="797.6" x2="1318.71" y2="797.6" stroke="#0000ff" stroke-width="1.25"/>
<line x1="1310.11" y1="849.6" x2="1318.71" y2="849.6" stroke="#0000ff" stroke-width="1.25"/>
<line x1="1404.38" y1="709.5" x2="1404.38" y2="785.1" stroke="#0000ff" stroke-width="1.25"/>
<line x1="1400.08" y1="709.5" x2="1408.68" y2="709.5" stroke="#0000ff" stroke-width="1.25"/>
<line x1="1400.08" y1="785.1" x2="1408.68" y2="785.1" stroke="#0000ff" stroke-width="1.25"/>
<line x1="1494.35" y1="729" x2="1494.35" y2="735" stroke="#0000ff" stroke-width="1.25"/>
<line x1="1490.05" y1="729" x2="1498.65" y2="729" stroke="#0000ff" stroke-width="1.25"/>
<line x1="1490.05" y1="735" x2="1498.65" y2="735" stroke="#0000ff" stroke-width="1.25"/>
<line x1="1584.32" y1="653.9" x2="1584.32" y2="741.1" stroke="#0000ff" stroke-width="1.25"/>
<line x1="1580.02" y1="653.9" x2="1588.62" y2="653.9" stroke="#0000ff" stroke-width="1.25"/>
<line x1="1580.02" y1="741.1" x2="1588.62" y2="741.1" stroke="#0000ff" stroke-width="1.25"/>
<polygon points="1134.47,1038.85 1128.11,1027.83 1140.84,1027.83" fill="#0000ff"/>
<polygon points="1224.44,932.85 1218.08,921.83 1230.81,921.83" fill="#0000ff"/>
<polygon points="1314.41,830.95 1308.05,819.93 1320.78,819.93" fill="#0000ff"/>
<polygon points="1404.38,754.65 1398.02,743.63 1410.75,743.63" fill="#0000ff"/>
<polygon points="1494.35,739.35 1487.98,728.33 1500.71,728.33" fill="#0000ff"/>
<polygon points="1584.32,704.85 1577.96,693.83 1590.69,693.83" fill="#0000ff"/>
<line x1="1069.5" y1="710.6" x2="1094" y2="710.6" stroke="#000000" stroke-width="1.3"/>
<line x1="1109" y1="710.6" x2="1133.1" y2="710.6" stroke="#000000" stroke-width="1.3"/>
<rect x="1096.5" y="705.6" width="10" height="10" fill="#000000"/>
<text x="1138.2" y="719.6" font-size="29.5" text-anchor="start">5c</text>
<line x1="1069.5" y1="745.8" x2="1093.6" y2="745.8" stroke="#ff0000" stroke-width="1.3"/>
<line x1="1109.4" y1="745.8" x2="1133.1" y2="745.8" stroke="#ff0000" stroke-width="1.3"/>
<circle cx="1101.5" cy="745.8" r="5.4" fill="#ff0000"/>
<text x="1138.2" y="755.5" font-size="29.5" text-anchor="start">20c</text>
<line x1="1069.5" y1="780.6" x2="1092.3" y2="780.6" stroke="#00ff00" stroke-width="1.3"/>
<line x1="1110.7" y1="780.6" x2="1133.1" y2="780.6" stroke="#00ff00" stroke-width="1.3"/>
<polygon points="1101.5,772.86 1094.8,784.47 1108.2,784.47" fill="#00ff00"/>
<text x="1138.2" y="789.5" font-size="29.5" text-anchor="start">40c</text>
<line x1="1069.5" y1="816.1" x2="1092.3" y2="816.1" stroke="#0000ff" stroke-width="1.3"/>
<line x1="1110.7" y1="816.1" x2="1133.1" y2="816.1" stroke="#0000ff" stroke-width="1.3"/>
<polygon points="1101.5,823.84 1094.8,812.23 1108.2,812.23" fill="#0000ff"/>
<text x="1138.2" y="825" font-size="29.5" text-anchor="start">60c</text>
</svg>
</body></html>
